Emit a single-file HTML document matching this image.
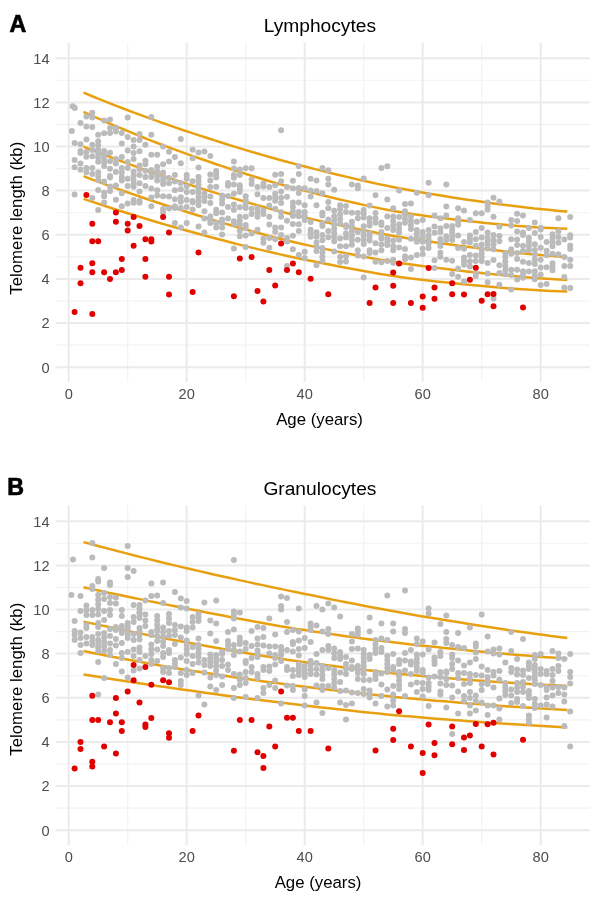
<!DOCTYPE html><html><head><meta charset="utf-8"><style>
html,body{margin:0;padding:0;background:#fff;width:598px;height:900px;overflow:hidden}
svg{display:block;will-change:transform}
text{font-family:"Liberation Sans",sans-serif}
</style></head><body>
<svg width="598" height="900" viewBox="0 0 598 900">
<line x1="55.7" y1="345.1" x2="590.0" y2="345.1" stroke="#f2f2f2" stroke-width="1.1"/>
<line x1="55.7" y1="301.0" x2="590.0" y2="301.0" stroke="#f2f2f2" stroke-width="1.1"/>
<line x1="55.7" y1="256.9" x2="590.0" y2="256.9" stroke="#f2f2f2" stroke-width="1.1"/>
<line x1="55.7" y1="212.7" x2="590.0" y2="212.7" stroke="#f2f2f2" stroke-width="1.1"/>
<line x1="55.7" y1="168.6" x2="590.0" y2="168.6" stroke="#f2f2f2" stroke-width="1.1"/>
<line x1="55.7" y1="124.4" x2="590.0" y2="124.4" stroke="#f2f2f2" stroke-width="1.1"/>
<line x1="55.7" y1="80.3" x2="590.0" y2="80.3" stroke="#f2f2f2" stroke-width="1.1"/>
<line x1="127.7" y1="42.5" x2="127.7" y2="382.0" stroke="#f2f2f2" stroke-width="1.1"/>
<line x1="245.7" y1="42.5" x2="245.7" y2="382.0" stroke="#f2f2f2" stroke-width="1.1"/>
<line x1="363.7" y1="42.5" x2="363.7" y2="382.0" stroke="#f2f2f2" stroke-width="1.1"/>
<line x1="481.7" y1="42.5" x2="481.7" y2="382.0" stroke="#f2f2f2" stroke-width="1.1"/>
<line x1="55.7" y1="367.2" x2="590.0" y2="367.2" stroke="#ebebeb" stroke-width="2"/>
<line x1="55.7" y1="323.1" x2="590.0" y2="323.1" stroke="#ebebeb" stroke-width="2"/>
<line x1="55.7" y1="278.9" x2="590.0" y2="278.9" stroke="#ebebeb" stroke-width="2"/>
<line x1="55.7" y1="234.8" x2="590.0" y2="234.8" stroke="#ebebeb" stroke-width="2"/>
<line x1="55.7" y1="190.6" x2="590.0" y2="190.6" stroke="#ebebeb" stroke-width="2"/>
<line x1="55.7" y1="146.5" x2="590.0" y2="146.5" stroke="#ebebeb" stroke-width="2"/>
<line x1="55.7" y1="102.4" x2="590.0" y2="102.4" stroke="#ebebeb" stroke-width="2"/>
<line x1="55.7" y1="58.2" x2="590.0" y2="58.2" stroke="#ebebeb" stroke-width="2"/>
<line x1="68.7" y1="42.5" x2="68.7" y2="382.0" stroke="#ebebeb" stroke-width="2"/>
<line x1="186.7" y1="42.5" x2="186.7" y2="382.0" stroke="#ebebeb" stroke-width="2"/>
<line x1="304.7" y1="42.5" x2="304.7" y2="382.0" stroke="#ebebeb" stroke-width="2"/>
<line x1="422.7" y1="42.5" x2="422.7" y2="382.0" stroke="#ebebeb" stroke-width="2"/>
<line x1="540.7" y1="42.5" x2="540.7" y2="382.0" stroke="#ebebeb" stroke-width="2"/>
<text x="49.5" y="372.5" font-size="14.6" fill="#4d4d4d" text-anchor="end">0</text>
<text x="49.5" y="328.4" font-size="14.6" fill="#4d4d4d" text-anchor="end">2</text>
<text x="49.5" y="284.2" font-size="14.6" fill="#4d4d4d" text-anchor="end">4</text>
<text x="49.5" y="240.1" font-size="14.6" fill="#4d4d4d" text-anchor="end">6</text>
<text x="49.5" y="195.9" font-size="14.6" fill="#4d4d4d" text-anchor="end">8</text>
<text x="49.5" y="151.8" font-size="14.6" fill="#4d4d4d" text-anchor="end">10</text>
<text x="49.5" y="107.7" font-size="14.6" fill="#4d4d4d" text-anchor="end">12</text>
<text x="49.5" y="63.5" font-size="14.6" fill="#4d4d4d" text-anchor="end">14</text>
<text x="68.7" y="399" font-size="14.6" fill="#4d4d4d" text-anchor="middle">0</text>
<text x="186.7" y="399" font-size="14.6" fill="#4d4d4d" text-anchor="middle">20</text>
<text x="304.7" y="399" font-size="14.6" fill="#4d4d4d" text-anchor="middle">40</text>
<text x="422.7" y="399" font-size="14.6" fill="#4d4d4d" text-anchor="middle">60</text>
<text x="540.7" y="399" font-size="14.6" fill="#4d4d4d" text-anchor="middle">80</text>
<text x="319.5" y="425.1" font-size="16.8" fill="#000" text-anchor="middle">Age (years)</text>
<text transform="translate(22.2,218.2) rotate(-90)" x="0" y="0" font-size="16.8" fill="#000" text-anchor="middle">Telomere length (kb)</text>
<text x="319.9" y="31.7" font-size="19.2" fill="#000" text-anchor="middle">Lymphocytes</text>
<text x="9.6" y="32.0" font-size="23.2" font-weight="bold" fill="#000" stroke="#000" stroke-width="0.7">A</text>
<path d="M83.5,92.7 L91.7,96.0 L99.9,99.3 L108.1,102.6 L116.3,105.8 L124.5,109.0 L132.7,112.1 L140.9,115.2 L149.1,118.2 L157.3,121.1 L165.5,124.0 L173.7,126.9 L181.9,129.7 L190.1,132.4 L198.3,135.1 L206.5,137.8 L214.7,140.4 L222.9,143.0 L231.1,145.6 L239.3,148.1 L247.5,150.6 L255.7,153.0 L263.9,155.4 L272.1,157.7 L280.3,160.0 L288.5,162.2 L296.7,164.4 L304.9,166.5 L313.1,168.6 L321.3,170.6 L329.5,172.7 L337.7,174.7 L345.9,176.6 L354.1,178.6 L362.3,180.5 L370.5,182.3 L378.7,184.1 L386.9,185.8 L395.1,187.5 L403.3,189.1 L411.5,190.6 L419.7,192.1 L427.9,193.4 L436.1,194.8 L444.3,196.1 L452.5,197.4 L460.7,198.7 L468.9,199.9 L477.1,201.1 L485.3,202.3 L493.5,203.4 L501.7,204.5 L509.9,205.6 L518.1,206.6 L526.3,207.5 L534.5,208.5 L542.7,209.3 L550.9,210.1 L559.1,210.9 L567.3,211.6" fill="none" stroke="#E8A010" stroke-width="2.5"/>
<path d="M83.5,111.9 L91.7,115.6 L99.9,119.2 L108.1,122.8 L116.3,126.3 L124.5,129.7 L132.7,133.1 L140.9,136.5 L149.1,139.8 L157.3,143.0 L165.5,146.1 L173.7,149.2 L181.9,152.2 L190.1,155.1 L198.3,158.0 L206.5,160.8 L214.7,163.7 L222.9,166.4 L231.1,169.2 L239.3,171.8 L247.5,174.5 L255.7,177.0 L263.9,179.5 L272.1,182.0 L280.3,184.3 L288.5,186.6 L296.7,188.8 L304.9,190.9 L313.1,192.9 L321.3,195.0 L329.5,197.0 L337.7,199.0 L345.9,200.9 L354.1,202.8 L362.3,204.6 L370.5,206.4 L378.7,208.1 L386.9,209.7 L395.1,211.2 L403.3,212.6 L411.5,213.9 L419.7,215.1 L427.9,216.2 L436.1,217.2 L444.3,218.2 L452.5,219.2 L460.7,220.2 L468.9,221.2 L477.1,222.1 L485.3,223.0 L493.5,223.8 L501.7,224.6 L509.9,225.3 L518.1,226.0 L526.3,226.6 L534.5,227.2 L542.7,227.7 L550.9,228.1 L559.1,228.4 L567.3,228.7" fill="none" stroke="#E8A010" stroke-width="2.5"/>
<path d="M83.5,146.6 L91.7,149.8 L99.9,153.0 L108.1,156.2 L116.3,159.3 L124.5,162.3 L132.7,165.3 L140.9,168.3 L149.1,171.2 L157.3,174.0 L165.5,176.8 L173.7,179.6 L181.9,182.3 L190.1,184.9 L198.3,187.5 L206.5,190.1 L214.7,192.6 L222.9,195.1 L231.1,197.6 L239.3,200.0 L247.5,202.4 L255.7,204.8 L263.9,207.0 L272.1,209.3 L280.3,211.4 L288.5,213.5 L296.7,215.5 L304.9,217.5 L313.1,219.4 L321.3,221.2 L329.5,223.1 L337.7,224.9 L345.9,226.6 L354.1,228.3 L362.3,230.0 L370.5,231.6 L378.7,233.2 L386.9,234.7 L395.1,236.2 L403.3,237.6 L411.5,238.9 L419.7,240.1 L427.9,241.3 L436.1,242.5 L444.3,243.7 L452.5,244.8 L460.7,245.9 L468.9,247.0 L477.1,248.1 L485.3,249.1 L493.5,250.1 L501.7,251.0 L509.9,252.0 L518.1,252.9 L526.3,253.7 L534.5,254.5 L542.7,255.2 L550.9,255.9 L559.1,256.6 L567.3,257.2" fill="none" stroke="#E8A010" stroke-width="2.5"/>
<path d="M83.5,176.2 L91.7,179.3 L99.9,182.3 L108.1,185.3 L116.3,188.3 L124.5,191.2 L132.7,194.1 L140.9,197.0 L149.1,199.8 L157.3,202.5 L165.5,205.2 L173.7,207.8 L181.9,210.4 L190.1,213.0 L198.3,215.5 L206.5,218.0 L214.7,220.4 L222.9,222.9 L231.1,225.3 L239.3,227.7 L247.5,230.0 L255.7,232.3 L263.9,234.5 L272.1,236.7 L280.3,238.8 L288.5,240.8 L296.7,242.7 L304.9,244.6 L313.1,246.4 L321.3,248.1 L329.5,249.9 L337.7,251.6 L345.9,253.2 L354.1,254.8 L362.3,256.4 L370.5,257.9 L378.7,259.4 L386.9,260.8 L395.1,262.1 L403.3,263.4 L411.5,264.6 L419.7,265.7 L427.9,266.7 L436.1,267.8 L444.3,268.8 L452.5,269.8 L460.7,270.7 L468.9,271.7 L477.1,272.6 L485.3,273.4 L493.5,274.3 L501.7,275.1 L509.9,275.8 L518.1,276.6 L526.3,277.3 L534.5,277.9 L542.7,278.5 L550.9,279.0 L559.1,279.5 L567.3,279.9" fill="none" stroke="#E8A010" stroke-width="2.5"/>
<path d="M83.5,198.9 L91.7,201.6 L99.9,204.3 L108.1,207.0 L116.3,209.7 L124.5,212.3 L132.7,214.8 L140.9,217.3 L149.1,219.8 L157.3,222.3 L165.5,224.6 L173.7,227.0 L181.9,229.3 L190.1,231.5 L198.3,233.8 L206.5,236.0 L214.7,238.2 L222.9,240.3 L231.1,242.5 L239.3,244.6 L247.5,246.6 L255.7,248.6 L263.9,250.6 L272.1,252.5 L280.3,254.4 L288.5,256.2 L296.7,258.0 L304.9,259.7 L313.1,261.3 L321.3,263.0 L329.5,264.6 L337.7,266.2 L345.9,267.8 L354.1,269.3 L362.3,270.8 L370.5,272.3 L378.7,273.7 L386.9,275.0 L395.1,276.3 L403.3,277.5 L411.5,278.6 L419.7,279.5 L427.9,280.5 L436.1,281.4 L444.3,282.2 L452.5,283.1 L460.7,283.9 L468.9,284.8 L477.1,285.5 L485.3,286.3 L493.5,287.0 L501.7,287.7 L509.9,288.4 L518.1,289.0 L526.3,289.5 L534.5,290.0 L542.7,290.5 L550.9,290.9 L559.1,291.2 L567.3,291.5" fill="none" stroke="#E8A010" stroke-width="2.5"/>
<g fill="#bbbbbb"><circle cx="74.6" cy="143.0" r="3.0"/><circle cx="74.6" cy="159.9" r="3.0"/><circle cx="74.6" cy="167.3" r="3.0"/><circle cx="74.6" cy="194.5" r="3.0"/><circle cx="80.5" cy="123.1" r="3.0"/><circle cx="80.5" cy="144.3" r="3.0"/><circle cx="80.5" cy="151.0" r="3.0"/><circle cx="80.5" cy="153.1" r="3.0"/><circle cx="80.5" cy="163.4" r="3.0"/><circle cx="80.5" cy="169.7" r="3.0"/><circle cx="86.4" cy="116.4" r="3.0"/><circle cx="86.4" cy="126.5" r="3.0"/><circle cx="86.4" cy="139.5" r="3.0"/><circle cx="86.4" cy="151.9" r="3.0"/><circle cx="86.4" cy="156.7" r="3.0"/><circle cx="86.4" cy="167.9" r="3.0"/><circle cx="86.4" cy="172.3" r="3.0"/><circle cx="92.3" cy="112.8" r="3.0"/><circle cx="92.3" cy="117.6" r="3.0"/><circle cx="92.3" cy="127.0" r="3.0"/><circle cx="92.3" cy="144.8" r="3.0"/><circle cx="92.3" cy="150.1" r="3.0"/><circle cx="92.3" cy="156.3" r="3.0"/><circle cx="92.3" cy="167.9" r="3.0"/><circle cx="92.3" cy="174.1" r="3.0"/><circle cx="92.3" cy="198.1" r="3.0"/><circle cx="98.2" cy="134.7" r="3.0"/><circle cx="98.2" cy="141.2" r="3.0"/><circle cx="98.2" cy="145.3" r="3.0"/><circle cx="98.2" cy="149.4" r="3.0"/><circle cx="98.2" cy="153.5" r="3.0"/><circle cx="98.2" cy="157.6" r="3.0"/><circle cx="98.2" cy="161.7" r="3.0"/><circle cx="98.2" cy="172.3" r="3.0"/><circle cx="98.2" cy="176.3" r="3.0"/><circle cx="98.2" cy="180.3" r="3.0"/><circle cx="98.2" cy="190.1" r="3.0"/><circle cx="98.2" cy="209.9" r="3.0"/><circle cx="104.1" cy="120.5" r="3.0"/><circle cx="104.1" cy="133.3" r="3.0"/><circle cx="104.1" cy="151.0" r="3.0"/><circle cx="104.1" cy="154.8" r="3.0"/><circle cx="104.1" cy="158.6" r="3.0"/><circle cx="104.1" cy="162.3" r="3.0"/><circle cx="104.1" cy="166.1" r="3.0"/><circle cx="104.1" cy="181.5" r="3.0"/><circle cx="104.1" cy="192.7" r="3.0"/><circle cx="104.1" cy="196.3" r="3.0"/><circle cx="104.1" cy="202.5" r="3.0"/><circle cx="110.0" cy="119.4" r="3.0"/><circle cx="110.0" cy="127.9" r="3.0"/><circle cx="110.0" cy="132.9" r="3.0"/><circle cx="110.0" cy="152.8" r="3.0"/><circle cx="110.0" cy="161.3" r="3.0"/><circle cx="110.0" cy="168.8" r="3.0"/><circle cx="110.0" cy="175.9" r="3.0"/><circle cx="110.0" cy="177.6" r="3.0"/><circle cx="110.0" cy="186.5" r="3.0"/><circle cx="110.0" cy="191.0" r="3.0"/><circle cx="115.9" cy="127.9" r="3.0"/><circle cx="115.9" cy="131.5" r="3.0"/><circle cx="115.9" cy="159.0" r="3.0"/><circle cx="115.9" cy="163.4" r="3.0"/><circle cx="115.9" cy="172.0" r="3.0"/><circle cx="115.9" cy="185.6" r="3.0"/><circle cx="115.9" cy="199.8" r="3.0"/><circle cx="72.7" cy="106.3" r="3.0"/><circle cx="74.8" cy="108.0" r="3.0"/><circle cx="71.8" cy="130.9" r="3.0"/><circle cx="121.8" cy="133.0" r="3.0"/><circle cx="121.8" cy="143.6" r="3.0"/><circle cx="121.8" cy="157.1" r="3.0"/><circle cx="121.8" cy="168.1" r="3.0"/><circle cx="121.8" cy="172.5" r="3.0"/><circle cx="121.8" cy="177.0" r="3.0"/><circle cx="121.8" cy="180.5" r="3.0"/><circle cx="121.8" cy="193.3" r="3.0"/><circle cx="121.8" cy="206.3" r="3.0"/><circle cx="127.7" cy="117.5" r="3.0"/><circle cx="127.7" cy="137.0" r="3.0"/><circle cx="127.7" cy="150.4" r="3.0"/><circle cx="127.7" cy="161.9" r="3.0"/><circle cx="127.7" cy="168.1" r="3.0"/><circle cx="127.7" cy="178.8" r="3.0"/><circle cx="127.7" cy="185.9" r="3.0"/><circle cx="127.7" cy="203.6" r="3.0"/><circle cx="133.6" cy="140.1" r="3.0"/><circle cx="133.6" cy="146.5" r="3.0"/><circle cx="133.6" cy="153.0" r="3.0"/><circle cx="133.6" cy="158.9" r="3.0"/><circle cx="133.6" cy="171.7" r="3.0"/><circle cx="133.6" cy="175.8" r="3.0"/><circle cx="133.6" cy="179.9" r="3.0"/><circle cx="133.6" cy="184.1" r="3.0"/><circle cx="133.6" cy="186.8" r="3.0"/><circle cx="133.6" cy="200.1" r="3.0"/><circle cx="133.6" cy="202.7" r="3.0"/><circle cx="139.5" cy="134.0" r="3.0"/><circle cx="139.5" cy="140.1" r="3.0"/><circle cx="139.5" cy="151.2" r="3.0"/><circle cx="139.5" cy="165.4" r="3.0"/><circle cx="139.5" cy="169.0" r="3.0"/><circle cx="139.5" cy="174.9" r="3.0"/><circle cx="139.5" cy="183.2" r="3.0"/><circle cx="139.5" cy="191.5" r="3.0"/><circle cx="139.5" cy="201.0" r="3.0"/><circle cx="139.5" cy="202.7" r="3.0"/><circle cx="145.4" cy="144.7" r="3.0"/><circle cx="145.4" cy="160.7" r="3.0"/><circle cx="145.4" cy="164.2" r="3.0"/><circle cx="145.4" cy="170.8" r="3.0"/><circle cx="145.4" cy="177.0" r="3.0"/><circle cx="145.4" cy="185.9" r="3.0"/><circle cx="151.3" cy="117.0" r="3.0"/><circle cx="151.3" cy="134.7" r="3.0"/><circle cx="151.3" cy="154.8" r="3.0"/><circle cx="151.3" cy="169.9" r="3.0"/><circle cx="151.3" cy="173.4" r="3.0"/><circle cx="151.3" cy="177.0" r="3.0"/><circle cx="151.3" cy="188.5" r="3.0"/><circle cx="151.3" cy="197.4" r="3.0"/><circle cx="151.3" cy="206.3" r="3.0"/><circle cx="157.2" cy="154.8" r="3.0"/><circle cx="157.2" cy="166.7" r="3.0"/><circle cx="157.2" cy="171.3" r="3.0"/><circle cx="157.2" cy="175.9" r="3.0"/><circle cx="157.2" cy="180.5" r="3.0"/><circle cx="157.2" cy="190.3" r="3.0"/><circle cx="157.2" cy="195.6" r="3.0"/><circle cx="163.1" cy="146.5" r="3.0"/><circle cx="163.1" cy="164.2" r="3.0"/><circle cx="163.1" cy="172.5" r="3.0"/><circle cx="163.1" cy="176.4" r="3.0"/><circle cx="163.1" cy="180.2" r="3.0"/><circle cx="163.1" cy="184.1" r="3.0"/><circle cx="163.1" cy="196.2" r="3.0"/><circle cx="163.1" cy="208.9" r="3.0"/><circle cx="163.1" cy="212.5" r="3.0"/><circle cx="169.0" cy="151.8" r="3.0"/><circle cx="169.0" cy="161.4" r="3.0"/><circle cx="169.0" cy="177.9" r="3.0"/><circle cx="169.0" cy="183.2" r="3.0"/><circle cx="169.0" cy="196.5" r="3.0"/><circle cx="169.0" cy="208.6" r="3.0"/><circle cx="174.9" cy="157.1" r="3.0"/><circle cx="174.9" cy="174.9" r="3.0"/><circle cx="174.9" cy="181.4" r="3.0"/><circle cx="174.9" cy="190.3" r="3.0"/><circle cx="174.9" cy="199.2" r="3.0"/><circle cx="174.9" cy="206.3" r="3.0"/><circle cx="174.9" cy="208.1" r="3.0"/><circle cx="174.9" cy="223.1" r="3.0"/><circle cx="180.8" cy="139.1" r="3.0"/><circle cx="180.8" cy="163.2" r="3.0"/><circle cx="180.8" cy="183.1" r="3.0"/><circle cx="180.8" cy="189.3" r="3.0"/><circle cx="180.8" cy="197.3" r="3.0"/><circle cx="180.8" cy="201.8" r="3.0"/><circle cx="180.8" cy="208.0" r="3.0"/><circle cx="180.8" cy="227.5" r="3.0"/><circle cx="186.7" cy="175.1" r="3.0"/><circle cx="186.7" cy="178.7" r="3.0"/><circle cx="186.7" cy="186.3" r="3.0"/><circle cx="186.7" cy="192.0" r="3.0"/><circle cx="186.7" cy="200.0" r="3.0"/><circle cx="186.7" cy="207.1" r="3.0"/><circle cx="186.7" cy="223.1" r="3.0"/><circle cx="192.6" cy="149.7" r="3.0"/><circle cx="192.6" cy="158.3" r="3.0"/><circle cx="192.6" cy="181.3" r="3.0"/><circle cx="192.6" cy="192.0" r="3.0"/><circle cx="192.6" cy="200.9" r="3.0"/><circle cx="192.6" cy="202.6" r="3.0"/><circle cx="192.6" cy="209.4" r="3.0"/><circle cx="198.5" cy="152.6" r="3.0"/><circle cx="198.5" cy="167.5" r="3.0"/><circle cx="198.5" cy="176.9" r="3.0"/><circle cx="198.5" cy="181.0" r="3.0"/><circle cx="198.5" cy="185.0" r="3.0"/><circle cx="198.5" cy="189.1" r="3.0"/><circle cx="198.5" cy="193.1" r="3.0"/><circle cx="198.5" cy="197.2" r="3.0"/><circle cx="198.5" cy="201.2" r="3.0"/><circle cx="198.5" cy="205.3" r="3.0"/><circle cx="198.5" cy="226.6" r="3.0"/><circle cx="204.4" cy="151.5" r="3.0"/><circle cx="204.4" cy="193.4" r="3.0"/><circle cx="204.4" cy="197.1" r="3.0"/><circle cx="204.4" cy="200.9" r="3.0"/><circle cx="204.4" cy="211.2" r="3.0"/><circle cx="204.4" cy="218.6" r="3.0"/><circle cx="204.4" cy="232.5" r="3.0"/><circle cx="210.3" cy="156.1" r="3.0"/><circle cx="210.3" cy="174.6" r="3.0"/><circle cx="210.3" cy="180.4" r="3.0"/><circle cx="210.3" cy="187.0" r="3.0"/><circle cx="210.3" cy="196.4" r="3.0"/><circle cx="210.3" cy="203.0" r="3.0"/><circle cx="210.3" cy="216.5" r="3.0"/><circle cx="210.3" cy="219.8" r="3.0"/><circle cx="210.3" cy="223.1" r="3.0"/><circle cx="216.2" cy="171.0" r="3.0"/><circle cx="216.2" cy="174.2" r="3.0"/><circle cx="216.2" cy="177.4" r="3.0"/><circle cx="216.2" cy="186.7" r="3.0"/><circle cx="216.2" cy="209.7" r="3.0"/><circle cx="216.2" cy="213.3" r="3.0"/><circle cx="216.2" cy="223.1" r="3.0"/><circle cx="216.2" cy="227.5" r="3.0"/><circle cx="222.1" cy="195.5" r="3.0"/><circle cx="222.1" cy="199.5" r="3.0"/><circle cx="222.1" cy="203.5" r="3.0"/><circle cx="222.1" cy="212.4" r="3.0"/><circle cx="222.1" cy="219.5" r="3.0"/><circle cx="222.1" cy="223.5" r="3.0"/><circle cx="222.1" cy="227.5" r="3.0"/><circle cx="222.1" cy="234.6" r="3.0"/><circle cx="228.0" cy="183.1" r="3.0"/><circle cx="228.0" cy="185.8" r="3.0"/><circle cx="228.0" cy="195.9" r="3.0"/><circle cx="228.0" cy="207.1" r="3.0"/><circle cx="228.0" cy="218.6" r="3.0"/><circle cx="233.9" cy="161.5" r="3.0"/><circle cx="233.9" cy="168.6" r="3.0"/><circle cx="233.9" cy="175.1" r="3.0"/><circle cx="233.9" cy="177.8" r="3.0"/><circle cx="233.9" cy="184.5" r="3.0"/><circle cx="233.9" cy="193.8" r="3.0"/><circle cx="233.9" cy="204.4" r="3.0"/><circle cx="233.9" cy="209.7" r="3.0"/><circle cx="233.9" cy="221.3" r="3.0"/><circle cx="233.9" cy="223.9" r="3.0"/><circle cx="233.9" cy="248.4" r="3.0"/><circle cx="239.8" cy="169.4" r="3.0"/><circle cx="239.8" cy="175.0" r="3.0"/><circle cx="239.8" cy="185.3" r="3.0"/><circle cx="239.8" cy="188.6" r="3.0"/><circle cx="239.8" cy="191.9" r="3.0"/><circle cx="239.8" cy="207.3" r="3.0"/><circle cx="239.8" cy="216.8" r="3.0"/><circle cx="239.8" cy="220.7" r="3.0"/><circle cx="239.8" cy="224.7" r="3.0"/><circle cx="239.8" cy="231.0" r="3.0"/><circle cx="239.8" cy="236.3" r="3.0"/><circle cx="245.7" cy="168.3" r="3.0"/><circle cx="245.7" cy="196.3" r="3.0"/><circle cx="245.7" cy="200.2" r="3.0"/><circle cx="245.7" cy="204.0" r="3.0"/><circle cx="245.7" cy="207.9" r="3.0"/><circle cx="245.7" cy="216.8" r="3.0"/><circle cx="245.7" cy="225.1" r="3.0"/><circle cx="245.7" cy="228.3" r="3.0"/><circle cx="245.7" cy="235.4" r="3.0"/><circle cx="245.7" cy="246.9" r="3.0"/><circle cx="251.6" cy="168.3" r="3.0"/><circle cx="251.6" cy="179.5" r="3.0"/><circle cx="251.6" cy="183.9" r="3.0"/><circle cx="251.6" cy="208.8" r="3.0"/><circle cx="251.6" cy="214.1" r="3.0"/><circle cx="251.6" cy="233.6" r="3.0"/><circle cx="257.5" cy="187.1" r="3.0"/><circle cx="257.5" cy="194.2" r="3.0"/><circle cx="257.5" cy="207.9" r="3.0"/><circle cx="257.5" cy="212.3" r="3.0"/><circle cx="257.5" cy="216.8" r="3.0"/><circle cx="257.5" cy="229.7" r="3.0"/><circle cx="263.4" cy="183.6" r="3.0"/><circle cx="263.4" cy="186.6" r="3.0"/><circle cx="263.4" cy="198.1" r="3.0"/><circle cx="263.4" cy="210.5" r="3.0"/><circle cx="263.4" cy="214.1" r="3.0"/><circle cx="263.4" cy="238.6" r="3.0"/><circle cx="263.4" cy="242.8" r="3.0"/><circle cx="269.3" cy="187.1" r="3.0"/><circle cx="269.3" cy="198.1" r="3.0"/><circle cx="269.3" cy="205.6" r="3.0"/><circle cx="269.3" cy="216.8" r="3.0"/><circle cx="269.3" cy="224.4" r="3.0"/><circle cx="269.3" cy="238.1" r="3.0"/><circle cx="269.3" cy="247.8" r="3.0"/><circle cx="275.2" cy="174.7" r="3.0"/><circle cx="275.2" cy="185.3" r="3.0"/><circle cx="275.2" cy="193.7" r="3.0"/><circle cx="275.2" cy="197.2" r="3.0"/><circle cx="275.2" cy="200.8" r="3.0"/><circle cx="275.2" cy="208.8" r="3.0"/><circle cx="275.2" cy="227.4" r="3.0"/><circle cx="275.2" cy="231.8" r="3.0"/><circle cx="275.2" cy="239.3" r="3.0"/><circle cx="281.1" cy="130.3" r="3.0"/><circle cx="281.1" cy="174.1" r="3.0"/><circle cx="281.1" cy="181.2" r="3.0"/><circle cx="281.1" cy="191.4" r="3.0"/><circle cx="281.1" cy="197.8" r="3.0"/><circle cx="281.1" cy="203.1" r="3.0"/><circle cx="281.1" cy="212.3" r="3.0"/><circle cx="281.1" cy="216.8" r="3.0"/><circle cx="281.1" cy="227.4" r="3.0"/><circle cx="281.1" cy="235.0" r="3.0"/><circle cx="287.0" cy="187.1" r="3.0"/><circle cx="287.0" cy="196.7" r="3.0"/><circle cx="287.0" cy="220.8" r="3.0"/><circle cx="287.0" cy="238.1" r="3.0"/><circle cx="287.0" cy="241.6" r="3.0"/><circle cx="287.0" cy="265.9" r="3.0"/><circle cx="292.9" cy="180.7" r="3.0"/><circle cx="292.9" cy="188.3" r="3.0"/><circle cx="292.9" cy="202.5" r="3.0"/><circle cx="292.9" cy="207.0" r="3.0"/><circle cx="292.9" cy="211.4" r="3.0"/><circle cx="292.9" cy="215.9" r="3.0"/><circle cx="292.9" cy="223.9" r="3.0"/><circle cx="292.9" cy="235.7" r="3.0"/><circle cx="292.9" cy="249.2" r="3.0"/><circle cx="298.8" cy="166.3" r="3.0"/><circle cx="298.8" cy="174.1" r="3.0"/><circle cx="298.8" cy="187.9" r="3.0"/><circle cx="298.8" cy="192.9" r="3.0"/><circle cx="298.8" cy="202.5" r="3.0"/><circle cx="298.8" cy="211.9" r="3.0"/><circle cx="298.8" cy="216.3" r="3.0"/><circle cx="298.8" cy="224.3" r="3.0"/><circle cx="298.8" cy="230.9" r="3.0"/><circle cx="298.8" cy="255.0" r="3.0"/><circle cx="304.7" cy="188.3" r="3.0"/><circle cx="304.7" cy="205.3" r="3.0"/><circle cx="304.7" cy="211.9" r="3.0"/><circle cx="304.7" cy="215.9" r="3.0"/><circle cx="304.7" cy="219.9" r="3.0"/><circle cx="304.7" cy="251.8" r="3.0"/><circle cx="304.7" cy="258.1" r="3.0"/><circle cx="310.6" cy="178.7" r="3.0"/><circle cx="310.6" cy="190.6" r="3.0"/><circle cx="310.6" cy="196.5" r="3.0"/><circle cx="310.6" cy="222.0" r="3.0"/><circle cx="310.6" cy="229.7" r="3.0"/><circle cx="310.6" cy="233.2" r="3.0"/><circle cx="310.6" cy="236.8" r="3.0"/><circle cx="316.5" cy="180.5" r="3.0"/><circle cx="316.5" cy="191.1" r="3.0"/><circle cx="316.5" cy="205.3" r="3.0"/><circle cx="316.5" cy="232.3" r="3.0"/><circle cx="316.5" cy="236.8" r="3.0"/><circle cx="316.5" cy="242.6" r="3.0"/><circle cx="316.5" cy="246.8" r="3.0"/><circle cx="316.5" cy="251.0" r="3.0"/><circle cx="316.5" cy="265.2" r="3.0"/><circle cx="322.4" cy="168.0" r="3.0"/><circle cx="322.4" cy="193.3" r="3.0"/><circle cx="322.4" cy="212.8" r="3.0"/><circle cx="322.4" cy="215.4" r="3.0"/><circle cx="322.4" cy="223.4" r="3.0"/><circle cx="322.4" cy="226.1" r="3.0"/><circle cx="322.4" cy="235.0" r="3.0"/><circle cx="322.4" cy="240.3" r="3.0"/><circle cx="322.4" cy="247.9" r="3.0"/><circle cx="322.4" cy="252.2" r="3.0"/><circle cx="322.4" cy="256.5" r="3.0"/><circle cx="322.4" cy="260.7" r="3.0"/><circle cx="328.3" cy="170.2" r="3.0"/><circle cx="328.3" cy="178.7" r="3.0"/><circle cx="328.3" cy="184.4" r="3.0"/><circle cx="328.3" cy="202.1" r="3.0"/><circle cx="328.3" cy="208.3" r="3.0"/><circle cx="328.3" cy="219.5" r="3.0"/><circle cx="328.3" cy="230.9" r="3.0"/><circle cx="328.3" cy="237.3" r="3.0"/><circle cx="334.2" cy="189.7" r="3.0"/><circle cx="334.2" cy="210.7" r="3.0"/><circle cx="334.2" cy="216.3" r="3.0"/><circle cx="334.2" cy="220.5" r="3.0"/><circle cx="334.2" cy="224.6" r="3.0"/><circle cx="334.2" cy="228.8" r="3.0"/><circle cx="334.2" cy="232.9" r="3.0"/><circle cx="334.2" cy="237.0" r="3.0"/><circle cx="334.2" cy="241.2" r="3.0"/><circle cx="334.2" cy="251.5" r="3.0"/><circle cx="340.1" cy="205.3" r="3.0"/><circle cx="340.1" cy="209.2" r="3.0"/><circle cx="340.1" cy="214.6" r="3.0"/><circle cx="340.1" cy="219.0" r="3.0"/><circle cx="340.1" cy="223.4" r="3.0"/><circle cx="340.1" cy="238.5" r="3.0"/><circle cx="340.1" cy="246.2" r="3.0"/><circle cx="340.1" cy="256.8" r="3.0"/><circle cx="340.1" cy="262.1" r="3.0"/><circle cx="346.0" cy="206.0" r="3.0"/><circle cx="346.0" cy="211.9" r="3.0"/><circle cx="346.0" cy="225.2" r="3.0"/><circle cx="346.0" cy="227.0" r="3.0"/><circle cx="346.0" cy="233.2" r="3.0"/><circle cx="346.0" cy="237.6" r="3.0"/><circle cx="346.0" cy="246.2" r="3.0"/><circle cx="346.0" cy="256.3" r="3.0"/><circle cx="346.0" cy="261.6" r="3.0"/><circle cx="351.9" cy="184.4" r="3.0"/><circle cx="351.9" cy="212.8" r="3.0"/><circle cx="351.9" cy="221.7" r="3.0"/><circle cx="351.9" cy="226.3" r="3.0"/><circle cx="351.9" cy="230.9" r="3.0"/><circle cx="351.9" cy="235.5" r="3.0"/><circle cx="351.9" cy="240.1" r="3.0"/><circle cx="351.9" cy="244.7" r="3.0"/><circle cx="357.8" cy="185.5" r="3.0"/><circle cx="357.8" cy="188.2" r="3.0"/><circle cx="357.8" cy="213.0" r="3.0"/><circle cx="357.8" cy="218.3" r="3.0"/><circle cx="357.8" cy="232.0" r="3.0"/><circle cx="357.8" cy="239.7" r="3.0"/><circle cx="357.8" cy="250.3" r="3.0"/><circle cx="357.8" cy="255.6" r="3.0"/><circle cx="363.7" cy="178.4" r="3.0"/><circle cx="363.7" cy="210.0" r="3.0"/><circle cx="363.7" cy="213.7" r="3.0"/><circle cx="363.7" cy="217.5" r="3.0"/><circle cx="363.7" cy="226.3" r="3.0"/><circle cx="363.7" cy="230.8" r="3.0"/><circle cx="363.7" cy="235.2" r="3.0"/><circle cx="363.7" cy="239.7" r="3.0"/><circle cx="363.7" cy="244.1" r="3.0"/><circle cx="363.7" cy="256.5" r="3.0"/><circle cx="363.7" cy="277.5" r="3.0"/><circle cx="369.6" cy="205.4" r="3.0"/><circle cx="369.6" cy="218.3" r="3.0"/><circle cx="369.6" cy="221.9" r="3.0"/><circle cx="369.6" cy="225.4" r="3.0"/><circle cx="369.6" cy="233.4" r="3.0"/><circle cx="369.6" cy="237.0" r="3.0"/><circle cx="369.6" cy="240.5" r="3.0"/><circle cx="369.6" cy="250.3" r="3.0"/><circle cx="369.6" cy="253.0" r="3.0"/><circle cx="375.5" cy="195.3" r="3.0"/><circle cx="375.5" cy="213.0" r="3.0"/><circle cx="375.5" cy="218.3" r="3.0"/><circle cx="375.5" cy="222.8" r="3.0"/><circle cx="375.5" cy="243.2" r="3.0"/><circle cx="375.5" cy="252.6" r="3.0"/><circle cx="375.5" cy="261.8" r="3.0"/><circle cx="381.4" cy="168.1" r="3.0"/><circle cx="381.4" cy="222.4" r="3.0"/><circle cx="381.4" cy="224.9" r="3.0"/><circle cx="381.4" cy="232.0" r="3.0"/><circle cx="381.4" cy="235.4" r="3.0"/><circle cx="381.4" cy="238.8" r="3.0"/><circle cx="381.4" cy="244.4" r="3.0"/><circle cx="381.4" cy="250.3" r="3.0"/><circle cx="381.4" cy="262.2" r="3.0"/><circle cx="387.3" cy="166.3" r="3.0"/><circle cx="387.3" cy="199.4" r="3.0"/><circle cx="387.3" cy="216.6" r="3.0"/><circle cx="387.3" cy="228.1" r="3.0"/><circle cx="387.3" cy="238.4" r="3.0"/><circle cx="387.3" cy="241.7" r="3.0"/><circle cx="387.3" cy="245.0" r="3.0"/><circle cx="387.3" cy="261.0" r="3.0"/><circle cx="393.2" cy="208.2" r="3.0"/><circle cx="393.2" cy="216.6" r="3.0"/><circle cx="393.2" cy="221.0" r="3.0"/><circle cx="393.2" cy="225.4" r="3.0"/><circle cx="393.2" cy="229.9" r="3.0"/><circle cx="393.2" cy="240.5" r="3.0"/><circle cx="393.2" cy="245.9" r="3.0"/><circle cx="393.2" cy="250.3" r="3.0"/><circle cx="393.2" cy="259.7" r="3.0"/><circle cx="393.2" cy="262.7" r="3.0"/><circle cx="399.1" cy="190.5" r="3.0"/><circle cx="399.1" cy="217.1" r="3.0"/><circle cx="399.1" cy="224.2" r="3.0"/><circle cx="399.1" cy="228.4" r="3.0"/><circle cx="399.1" cy="232.5" r="3.0"/><circle cx="399.1" cy="239.7" r="3.0"/><circle cx="399.1" cy="247.6" r="3.0"/><circle cx="405.0" cy="204.1" r="3.0"/><circle cx="405.0" cy="211.2" r="3.0"/><circle cx="405.0" cy="215.1" r="3.0"/><circle cx="405.0" cy="218.9" r="3.0"/><circle cx="405.0" cy="222.8" r="3.0"/><circle cx="405.0" cy="249.1" r="3.0"/><circle cx="405.0" cy="256.2" r="3.0"/><circle cx="405.0" cy="259.2" r="3.0"/><circle cx="410.9" cy="203.6" r="3.0"/><circle cx="410.9" cy="216.6" r="3.0"/><circle cx="410.9" cy="220.7" r="3.0"/><circle cx="410.9" cy="224.9" r="3.0"/><circle cx="410.9" cy="229.0" r="3.0"/><circle cx="410.9" cy="238.8" r="3.0"/><circle cx="410.9" cy="257.4" r="3.0"/><circle cx="410.9" cy="268.9" r="3.0"/><circle cx="416.8" cy="192.8" r="3.0"/><circle cx="416.8" cy="221.8" r="3.0"/><circle cx="416.8" cy="230.1" r="3.0"/><circle cx="416.8" cy="234.0" r="3.0"/><circle cx="416.8" cy="237.8" r="3.0"/><circle cx="416.8" cy="241.7" r="3.0"/><circle cx="416.8" cy="255.0" r="3.0"/><circle cx="422.7" cy="220.0" r="3.0"/><circle cx="422.7" cy="231.9" r="3.0"/><circle cx="422.7" cy="236.8" r="3.0"/><circle cx="422.7" cy="241.7" r="3.0"/><circle cx="422.7" cy="248.4" r="3.0"/><circle cx="422.7" cy="254.1" r="3.0"/><circle cx="428.6" cy="182.7" r="3.0"/><circle cx="428.6" cy="195.2" r="3.0"/><circle cx="428.6" cy="230.1" r="3.0"/><circle cx="428.6" cy="235.4" r="3.0"/><circle cx="428.6" cy="239.6" r="3.0"/><circle cx="428.6" cy="243.7" r="3.0"/><circle cx="428.6" cy="247.9" r="3.0"/><circle cx="434.5" cy="215.4" r="3.0"/><circle cx="434.5" cy="226.6" r="3.0"/><circle cx="434.5" cy="232.8" r="3.0"/><circle cx="434.5" cy="260.3" r="3.0"/><circle cx="434.5" cy="267.9" r="3.0"/><circle cx="440.4" cy="218.2" r="3.0"/><circle cx="440.4" cy="228.3" r="3.0"/><circle cx="440.4" cy="231.9" r="3.0"/><circle cx="440.4" cy="239.0" r="3.0"/><circle cx="440.4" cy="242.5" r="3.0"/><circle cx="440.4" cy="246.1" r="3.0"/><circle cx="440.4" cy="252.7" r="3.0"/><circle cx="440.4" cy="256.8" r="3.0"/><circle cx="446.3" cy="184.5" r="3.0"/><circle cx="446.3" cy="206.5" r="3.0"/><circle cx="446.3" cy="215.4" r="3.0"/><circle cx="446.3" cy="226.0" r="3.0"/><circle cx="446.3" cy="236.3" r="3.0"/><circle cx="446.3" cy="239.9" r="3.0"/><circle cx="446.3" cy="259.8" r="3.0"/><circle cx="452.2" cy="226.0" r="3.0"/><circle cx="452.2" cy="229.4" r="3.0"/><circle cx="452.2" cy="232.8" r="3.0"/><circle cx="452.2" cy="236.7" r="3.0"/><circle cx="452.2" cy="239.9" r="3.0"/><circle cx="452.2" cy="260.8" r="3.0"/><circle cx="452.2" cy="274.1" r="3.0"/><circle cx="458.1" cy="208.3" r="3.0"/><circle cx="458.1" cy="218.2" r="3.0"/><circle cx="458.1" cy="221.5" r="3.0"/><circle cx="458.1" cy="224.8" r="3.0"/><circle cx="458.1" cy="235.4" r="3.0"/><circle cx="458.1" cy="247.9" r="3.0"/><circle cx="458.1" cy="268.6" r="3.0"/><circle cx="458.1" cy="276.8" r="3.0"/><circle cx="464.0" cy="210.6" r="3.0"/><circle cx="464.0" cy="242.0" r="3.0"/><circle cx="464.0" cy="248.8" r="3.0"/><circle cx="464.0" cy="257.6" r="3.0"/><circle cx="464.0" cy="261.2" r="3.0"/><circle cx="464.0" cy="264.7" r="3.0"/><circle cx="464.0" cy="281.6" r="3.0"/><circle cx="469.9" cy="220.0" r="3.0"/><circle cx="469.9" cy="235.4" r="3.0"/><circle cx="469.9" cy="239.0" r="3.0"/><circle cx="469.9" cy="242.5" r="3.0"/><circle cx="469.9" cy="255.0" r="3.0"/><circle cx="469.9" cy="261.2" r="3.0"/><circle cx="469.9" cy="266.5" r="3.0"/><circle cx="475.8" cy="213.3" r="3.0"/><circle cx="475.8" cy="232.1" r="3.0"/><circle cx="475.8" cy="239.2" r="3.0"/><circle cx="475.8" cy="245.8" r="3.0"/><circle cx="475.8" cy="255.5" r="3.0"/><circle cx="475.8" cy="260.9" r="3.0"/><circle cx="475.8" cy="273.3" r="3.0"/><circle cx="475.8" cy="276.0" r="3.0"/><circle cx="481.7" cy="213.3" r="3.0"/><circle cx="481.7" cy="228.0" r="3.0"/><circle cx="481.7" cy="237.4" r="3.0"/><circle cx="481.7" cy="244.5" r="3.0"/><circle cx="481.7" cy="249.3" r="3.0"/><circle cx="481.7" cy="253.2" r="3.0"/><circle cx="481.7" cy="257.0" r="3.0"/><circle cx="481.7" cy="260.9" r="3.0"/><circle cx="487.6" cy="202.6" r="3.0"/><circle cx="487.6" cy="206.0" r="3.0"/><circle cx="487.6" cy="209.4" r="3.0"/><circle cx="487.6" cy="232.5" r="3.0"/><circle cx="487.6" cy="237.8" r="3.0"/><circle cx="487.6" cy="241.3" r="3.0"/><circle cx="487.6" cy="244.9" r="3.0"/><circle cx="487.6" cy="248.4" r="3.0"/><circle cx="487.6" cy="263.0" r="3.0"/><circle cx="487.6" cy="273.6" r="3.0"/><circle cx="487.6" cy="282.2" r="3.0"/><circle cx="493.5" cy="197.8" r="3.0"/><circle cx="493.5" cy="216.8" r="3.0"/><circle cx="493.5" cy="235.1" r="3.0"/><circle cx="493.5" cy="239.9" r="3.0"/><circle cx="493.5" cy="244.6" r="3.0"/><circle cx="493.5" cy="249.3" r="3.0"/><circle cx="493.5" cy="260.0" r="3.0"/><circle cx="493.5" cy="298.5" r="3.0"/><circle cx="499.4" cy="201.4" r="3.0"/><circle cx="499.4" cy="226.8" r="3.0"/><circle cx="499.4" cy="236.0" r="3.0"/><circle cx="499.4" cy="241.3" r="3.0"/><circle cx="499.4" cy="265.3" r="3.0"/><circle cx="499.4" cy="272.9" r="3.0"/><circle cx="499.4" cy="284.8" r="3.0"/><circle cx="505.3" cy="252.9" r="3.0"/><circle cx="505.3" cy="257.1" r="3.0"/><circle cx="505.3" cy="261.4" r="3.0"/><circle cx="505.3" cy="265.7" r="3.0"/><circle cx="505.3" cy="269.9" r="3.0"/><circle cx="505.3" cy="274.2" r="3.0"/><circle cx="511.2" cy="220.0" r="3.0"/><circle cx="511.2" cy="225.4" r="3.0"/><circle cx="511.2" cy="239.2" r="3.0"/><circle cx="511.2" cy="249.3" r="3.0"/><circle cx="511.2" cy="253.8" r="3.0"/><circle cx="511.2" cy="269.7" r="3.0"/><circle cx="511.2" cy="275.1" r="3.0"/><circle cx="511.2" cy="289.6" r="3.0"/><circle cx="517.1" cy="213.8" r="3.0"/><circle cx="517.1" cy="220.9" r="3.0"/><circle cx="517.1" cy="231.6" r="3.0"/><circle cx="517.1" cy="239.6" r="3.0"/><circle cx="517.1" cy="244.9" r="3.0"/><circle cx="517.1" cy="252.9" r="3.0"/><circle cx="517.1" cy="259.1" r="3.0"/><circle cx="517.1" cy="269.7" r="3.0"/><circle cx="517.1" cy="279.5" r="3.0"/><circle cx="523.0" cy="215.6" r="3.0"/><circle cx="523.0" cy="232.5" r="3.0"/><circle cx="523.0" cy="235.1" r="3.0"/><circle cx="523.0" cy="245.8" r="3.0"/><circle cx="523.0" cy="251.1" r="3.0"/><circle cx="523.0" cy="261.8" r="3.0"/><circle cx="523.0" cy="271.2" r="3.0"/><circle cx="523.0" cy="274.4" r="3.0"/><circle cx="523.0" cy="277.7" r="3.0"/><circle cx="528.9" cy="228.0" r="3.0"/><circle cx="528.9" cy="237.8" r="3.0"/><circle cx="528.9" cy="241.9" r="3.0"/><circle cx="528.9" cy="246.1" r="3.0"/><circle cx="528.9" cy="250.2" r="3.0"/><circle cx="528.9" cy="263.0" r="3.0"/><circle cx="528.9" cy="271.5" r="3.0"/><circle cx="534.8" cy="222.4" r="3.0"/><circle cx="534.8" cy="233.0" r="3.0"/><circle cx="534.8" cy="244.2" r="3.0"/><circle cx="534.8" cy="249.9" r="3.0"/><circle cx="534.8" cy="254.6" r="3.0"/><circle cx="534.8" cy="259.4" r="3.0"/><circle cx="534.8" cy="264.1" r="3.0"/><circle cx="534.8" cy="271.2" r="3.0"/><circle cx="534.8" cy="275.2" r="3.0"/><circle cx="534.8" cy="279.2" r="3.0"/><circle cx="540.7" cy="227.7" r="3.0"/><circle cx="540.7" cy="229.5" r="3.0"/><circle cx="540.7" cy="237.1" r="3.0"/><circle cx="540.7" cy="247.8" r="3.0"/><circle cx="540.7" cy="259.7" r="3.0"/><circle cx="540.7" cy="267.6" r="3.0"/><circle cx="540.7" cy="274.7" r="3.0"/><circle cx="540.7" cy="285.0" r="3.0"/><circle cx="546.6" cy="241.9" r="3.0"/><circle cx="546.6" cy="250.8" r="3.0"/><circle cx="546.6" cy="255.2" r="3.0"/><circle cx="546.6" cy="267.3" r="3.0"/><circle cx="546.6" cy="284.0" r="3.0"/><circle cx="552.5" cy="234.3" r="3.0"/><circle cx="552.5" cy="238.3" r="3.0"/><circle cx="552.5" cy="242.3" r="3.0"/><circle cx="552.5" cy="246.3" r="3.0"/><circle cx="552.5" cy="253.8" r="3.0"/><circle cx="552.5" cy="263.2" r="3.0"/><circle cx="552.5" cy="266.8" r="3.0"/><circle cx="552.5" cy="270.3" r="3.0"/><circle cx="558.4" cy="218.3" r="3.0"/><circle cx="558.4" cy="231.2" r="3.0"/><circle cx="558.4" cy="237.1" r="3.0"/><circle cx="558.4" cy="242.8" r="3.0"/><circle cx="558.4" cy="254.3" r="3.0"/><circle cx="564.3" cy="239.6" r="3.0"/><circle cx="564.3" cy="257.0" r="3.0"/><circle cx="564.3" cy="265.9" r="3.0"/><circle cx="564.3" cy="276.9" r="3.0"/><circle cx="564.3" cy="287.5" r="3.0"/><circle cx="570.2" cy="217.0" r="3.0"/><circle cx="570.2" cy="235.3" r="3.0"/><circle cx="570.2" cy="237.5" r="3.0"/><circle cx="570.2" cy="245.4" r="3.0"/><circle cx="570.2" cy="249.0" r="3.0"/><circle cx="570.2" cy="259.7" r="3.0"/><circle cx="570.2" cy="265.9" r="3.0"/><circle cx="570.2" cy="288.1" r="3.0"/></g>
<g fill="#e00000"><circle cx="86.4" cy="194.9" r="3.0"/><circle cx="92.3" cy="223.7" r="3.0"/><circle cx="92.3" cy="241.2" r="3.0"/><circle cx="98.2" cy="241.2" r="3.0"/><circle cx="92.3" cy="263.3" r="3.0"/><circle cx="80.5" cy="267.7" r="3.0"/><circle cx="92.3" cy="272.3" r="3.0"/><circle cx="104.1" cy="272.3" r="3.0"/><circle cx="110.0" cy="278.9" r="3.0"/><circle cx="115.9" cy="272.3" r="3.0"/><circle cx="121.8" cy="270.1" r="3.0"/><circle cx="121.8" cy="259.1" r="3.0"/><circle cx="80.5" cy="283.3" r="3.0"/><circle cx="74.6" cy="312.0" r="3.0"/><circle cx="92.3" cy="314.0" r="3.0"/><circle cx="115.9" cy="212.5" r="3.0"/><circle cx="115.9" cy="221.7" r="3.0"/><circle cx="127.7" cy="223.7" r="3.0"/><circle cx="127.7" cy="230.4" r="3.0"/><circle cx="133.6" cy="216.9" r="3.0"/><circle cx="139.5" cy="226.0" r="3.0"/><circle cx="133.6" cy="245.8" r="3.0"/><circle cx="145.4" cy="239.2" r="3.0"/><circle cx="151.3" cy="239.2" r="3.0"/><circle cx="151.3" cy="241.4" r="3.0"/><circle cx="145.4" cy="259.1" r="3.0"/><circle cx="145.4" cy="276.7" r="3.0"/><circle cx="163.1" cy="216.9" r="3.0"/><circle cx="169.0" cy="232.6" r="3.0"/><circle cx="169.0" cy="276.7" r="3.0"/><circle cx="169.0" cy="294.4" r="3.0"/><circle cx="198.5" cy="252.4" r="3.0"/><circle cx="192.6" cy="292.0" r="3.0"/><circle cx="233.9" cy="296.3" r="3.0"/><circle cx="239.8" cy="258.4" r="3.0"/><circle cx="251.6" cy="256.9" r="3.0"/><circle cx="257.5" cy="291.0" r="3.0"/><circle cx="263.4" cy="301.6" r="3.0"/><circle cx="269.3" cy="270.0" r="3.0"/><circle cx="275.2" cy="285.5" r="3.0"/><circle cx="281.1" cy="243.6" r="3.0"/><circle cx="287.0" cy="270.0" r="3.0"/><circle cx="292.9" cy="263.5" r="3.0"/><circle cx="298.8" cy="272.2" r="3.0"/><circle cx="310.6" cy="278.8" r="3.0"/><circle cx="328.3" cy="294.2" r="3.0"/><circle cx="369.6" cy="303.0" r="3.0"/><circle cx="375.5" cy="287.5" r="3.0"/><circle cx="393.2" cy="272.4" r="3.0"/><circle cx="393.2" cy="285.7" r="3.0"/><circle cx="393.2" cy="303.0" r="3.0"/><circle cx="399.1" cy="263.4" r="3.0"/><circle cx="410.9" cy="303.0" r="3.0"/><circle cx="422.7" cy="296.5" r="3.0"/><circle cx="422.7" cy="307.8" r="3.0"/><circle cx="428.6" cy="267.9" r="3.0"/><circle cx="434.5" cy="287.5" r="3.0"/><circle cx="434.5" cy="298.8" r="3.0"/><circle cx="452.2" cy="283.2" r="3.0"/><circle cx="452.2" cy="294.2" r="3.0"/><circle cx="464.0" cy="294.5" r="3.0"/><circle cx="469.9" cy="279.7" r="3.0"/><circle cx="475.8" cy="267.7" r="3.0"/><circle cx="481.7" cy="300.8" r="3.0"/><circle cx="487.6" cy="294.2" r="3.0"/><circle cx="493.5" cy="294.0" r="3.0"/><circle cx="493.5" cy="306.3" r="3.0"/><circle cx="523.0" cy="307.5" r="3.0"/></g>
<line x1="55.7" y1="808.1" x2="590.0" y2="808.1" stroke="#f2f2f2" stroke-width="1.1"/>
<line x1="55.7" y1="764.0" x2="590.0" y2="764.0" stroke="#f2f2f2" stroke-width="1.1"/>
<line x1="55.7" y1="719.9" x2="590.0" y2="719.9" stroke="#f2f2f2" stroke-width="1.1"/>
<line x1="55.7" y1="675.7" x2="590.0" y2="675.7" stroke="#f2f2f2" stroke-width="1.1"/>
<line x1="55.7" y1="631.6" x2="590.0" y2="631.6" stroke="#f2f2f2" stroke-width="1.1"/>
<line x1="55.7" y1="587.4" x2="590.0" y2="587.4" stroke="#f2f2f2" stroke-width="1.1"/>
<line x1="55.7" y1="543.3" x2="590.0" y2="543.3" stroke="#f2f2f2" stroke-width="1.1"/>
<line x1="127.7" y1="505.5" x2="127.7" y2="845.2" stroke="#f2f2f2" stroke-width="1.1"/>
<line x1="245.7" y1="505.5" x2="245.7" y2="845.2" stroke="#f2f2f2" stroke-width="1.1"/>
<line x1="363.7" y1="505.5" x2="363.7" y2="845.2" stroke="#f2f2f2" stroke-width="1.1"/>
<line x1="481.7" y1="505.5" x2="481.7" y2="845.2" stroke="#f2f2f2" stroke-width="1.1"/>
<line x1="55.7" y1="830.2" x2="590.0" y2="830.2" stroke="#ebebeb" stroke-width="2"/>
<line x1="55.7" y1="786.1" x2="590.0" y2="786.1" stroke="#ebebeb" stroke-width="2"/>
<line x1="55.7" y1="741.9" x2="590.0" y2="741.9" stroke="#ebebeb" stroke-width="2"/>
<line x1="55.7" y1="697.8" x2="590.0" y2="697.8" stroke="#ebebeb" stroke-width="2"/>
<line x1="55.7" y1="653.6" x2="590.0" y2="653.6" stroke="#ebebeb" stroke-width="2"/>
<line x1="55.7" y1="609.5" x2="590.0" y2="609.5" stroke="#ebebeb" stroke-width="2"/>
<line x1="55.7" y1="565.4" x2="590.0" y2="565.4" stroke="#ebebeb" stroke-width="2"/>
<line x1="55.7" y1="521.2" x2="590.0" y2="521.2" stroke="#ebebeb" stroke-width="2"/>
<line x1="68.7" y1="505.5" x2="68.7" y2="845.2" stroke="#ebebeb" stroke-width="2"/>
<line x1="186.7" y1="505.5" x2="186.7" y2="845.2" stroke="#ebebeb" stroke-width="2"/>
<line x1="304.7" y1="505.5" x2="304.7" y2="845.2" stroke="#ebebeb" stroke-width="2"/>
<line x1="422.7" y1="505.5" x2="422.7" y2="845.2" stroke="#ebebeb" stroke-width="2"/>
<line x1="540.7" y1="505.5" x2="540.7" y2="845.2" stroke="#ebebeb" stroke-width="2"/>
<text x="49.5" y="835.5" font-size="14.6" fill="#4d4d4d" text-anchor="end">0</text>
<text x="49.5" y="791.4" font-size="14.6" fill="#4d4d4d" text-anchor="end">2</text>
<text x="49.5" y="747.2" font-size="14.6" fill="#4d4d4d" text-anchor="end">4</text>
<text x="49.5" y="703.1" font-size="14.6" fill="#4d4d4d" text-anchor="end">6</text>
<text x="49.5" y="658.9" font-size="14.6" fill="#4d4d4d" text-anchor="end">8</text>
<text x="49.5" y="614.8" font-size="14.6" fill="#4d4d4d" text-anchor="end">10</text>
<text x="49.5" y="570.7" font-size="14.6" fill="#4d4d4d" text-anchor="end">12</text>
<text x="49.5" y="526.5" font-size="14.6" fill="#4d4d4d" text-anchor="end">14</text>
<text x="68.7" y="862" font-size="14.6" fill="#4d4d4d" text-anchor="middle">0</text>
<text x="186.7" y="862" font-size="14.6" fill="#4d4d4d" text-anchor="middle">20</text>
<text x="304.7" y="862" font-size="14.6" fill="#4d4d4d" text-anchor="middle">40</text>
<text x="422.7" y="862" font-size="14.6" fill="#4d4d4d" text-anchor="middle">60</text>
<text x="540.7" y="862" font-size="14.6" fill="#4d4d4d" text-anchor="middle">80</text>
<text x="318.0" y="887.8" font-size="16.8" fill="#000" text-anchor="middle">Age (years)</text>
<text transform="translate(22.2,679.2) rotate(-90)" x="0" y="0" font-size="16.8" fill="#000" text-anchor="middle">Telomere length (kb)</text>
<text x="319.9" y="494.7" font-size="19.2" fill="#000" text-anchor="middle">Granulocytes</text>
<text x="7.3" y="495.0" font-size="23.2" font-weight="bold" fill="#000" stroke="#000" stroke-width="0.7">B</text>
<path d="M83.5,542.1 L91.7,544.3 L99.9,546.5 L108.1,548.6 L116.3,550.8 L124.5,552.9 L132.7,555.0 L140.9,557.1 L149.1,559.1 L157.3,561.2 L165.5,563.2 L173.7,565.1 L181.9,567.1 L190.1,569.0 L198.3,570.9 L206.5,572.8 L214.7,574.7 L222.9,576.5 L231.1,578.3 L239.3,580.1 L247.5,581.9 L255.7,583.7 L263.9,585.4 L272.1,587.2 L280.3,588.9 L288.5,590.6 L296.7,592.3 L304.9,594.0 L313.1,595.6 L321.3,597.3 L329.5,598.9 L337.7,600.6 L345.9,602.2 L354.1,603.8 L362.3,605.4 L370.5,607.0 L378.7,608.5 L386.9,610.0 L395.1,611.5 L403.3,613.0 L411.5,614.5 L419.7,615.9 L427.9,617.3 L436.1,618.6 L444.3,620.0 L452.5,621.3 L460.7,622.6 L468.9,623.9 L477.1,625.2 L485.3,626.5 L493.5,627.7 L501.7,629.0 L509.9,630.2 L518.1,631.4 L526.3,632.6 L534.5,633.7 L542.7,634.8 L550.9,636.0 L559.1,637.0 L567.3,638.1" fill="none" stroke="#E8A010" stroke-width="2.5"/>
<path d="M83.5,587.3 L91.7,589.1 L99.9,590.8 L108.1,592.6 L116.3,594.3 L124.5,596.0 L132.7,597.7 L140.9,599.4 L149.1,601.1 L157.3,602.7 L165.5,604.4 L173.7,606.0 L181.9,607.6 L190.1,609.2 L198.3,610.8 L206.5,612.4 L214.7,614.0 L222.9,615.6 L231.1,617.2 L239.3,618.7 L247.5,620.3 L255.7,621.8 L263.9,623.3 L272.1,624.7 L280.3,626.2 L288.5,627.5 L296.7,628.9 L304.9,630.1 L313.1,631.4 L321.3,632.6 L329.5,633.8 L337.7,635.0 L345.9,636.2 L354.1,637.3 L362.3,638.4 L370.5,639.5 L378.7,640.5 L386.9,641.6 L395.1,642.6 L403.3,643.5 L411.5,644.5 L419.7,645.4 L427.9,646.2 L436.1,647.1 L444.3,648.0 L452.5,648.8 L460.7,649.6 L468.9,650.4 L477.1,651.2 L485.3,652.0 L493.5,652.8 L501.7,653.5 L509.9,654.2 L518.1,654.9 L526.3,655.6 L534.5,656.2 L542.7,656.9 L550.9,657.5 L559.1,658.0 L567.3,658.6" fill="none" stroke="#E8A010" stroke-width="2.5"/>
<path d="M83.5,621.6 L91.7,623.4 L99.9,625.1 L108.1,626.8 L116.3,628.5 L124.5,630.2 L132.7,631.9 L140.9,633.6 L149.1,635.2 L157.3,636.8 L165.5,638.4 L173.7,639.9 L181.9,641.5 L190.1,643.0 L198.3,644.5 L206.5,646.0 L214.7,647.5 L222.9,648.9 L231.1,650.4 L239.3,651.8 L247.5,653.3 L255.7,654.7 L263.9,656.0 L272.1,657.3 L280.3,658.6 L288.5,659.9 L296.7,661.1 L304.9,662.2 L313.1,663.4 L321.3,664.5 L329.5,665.6 L337.7,666.6 L345.9,667.7 L354.1,668.7 L362.3,669.7 L370.5,670.6 L378.7,671.6 L386.9,672.5 L395.1,673.4 L403.3,674.2 L411.5,675.0 L419.7,675.7 L427.9,676.4 L436.1,677.1 L444.3,677.8 L452.5,678.5 L460.7,679.2 L468.9,679.8 L477.1,680.5 L485.3,681.1 L493.5,681.7 L501.7,682.2 L509.9,682.8 L518.1,683.3 L526.3,683.8 L534.5,684.3 L542.7,684.7 L550.9,685.1 L559.1,685.5 L567.3,685.9" fill="none" stroke="#E8A010" stroke-width="2.5"/>
<path d="M83.5,651.0 L91.7,652.7 L99.9,654.3 L108.1,655.9 L116.3,657.5 L124.5,659.0 L132.7,660.6 L140.9,662.1 L149.1,663.6 L157.3,665.0 L165.5,666.4 L173.7,667.8 L181.9,669.2 L190.1,670.5 L198.3,671.8 L206.5,673.1 L214.7,674.3 L222.9,675.6 L231.1,676.8 L239.3,678.0 L247.5,679.1 L255.7,680.3 L263.9,681.4 L272.1,682.5 L280.3,683.6 L288.5,684.7 L296.7,685.7 L304.9,686.7 L313.1,687.7 L321.3,688.7 L329.5,689.7 L337.7,690.7 L345.9,691.6 L354.1,692.6 L362.3,693.5 L370.5,694.4 L378.7,695.2 L386.9,696.1 L395.1,696.9 L403.3,697.7 L411.5,698.5 L419.7,699.2 L427.9,699.9 L436.1,700.7 L444.3,701.3 L452.5,702.0 L460.7,702.7 L468.9,703.4 L477.1,704.0 L485.3,704.6 L493.5,705.3 L501.7,705.9 L509.9,706.4 L518.1,707.0 L526.3,707.6 L534.5,708.1 L542.7,708.6 L550.9,709.1 L559.1,709.6 L567.3,710.0" fill="none" stroke="#E8A010" stroke-width="2.5"/>
<path d="M83.5,674.5 L91.7,675.8 L99.9,677.1 L108.1,678.4 L116.3,679.7 L124.5,681.0 L132.7,682.2 L140.9,683.5 L149.1,684.7 L157.3,685.9 L165.5,687.1 L173.7,688.3 L181.9,689.5 L190.1,690.6 L198.3,691.8 L206.5,692.9 L214.7,694.0 L222.9,695.2 L231.1,696.3 L239.3,697.4 L247.5,698.5 L255.7,699.5 L263.9,700.6 L272.1,701.6 L280.3,702.6 L288.5,703.6 L296.7,704.6 L304.9,705.5 L313.1,706.5 L321.3,707.4 L329.5,708.3 L337.7,709.2 L345.9,710.1 L354.1,711.0 L362.3,711.9 L370.5,712.7 L378.7,713.6 L386.9,714.4 L395.1,715.2 L403.3,715.9 L411.5,716.6 L419.7,717.3 L427.9,718.0 L436.1,718.7 L444.3,719.3 L452.5,720.0 L460.7,720.6 L468.9,721.2 L477.1,721.8 L485.3,722.4 L493.5,723.0 L501.7,723.6 L509.9,724.1 L518.1,724.6 L526.3,725.1 L534.5,725.6 L542.7,726.1 L550.9,726.6 L559.1,727.0 L567.3,727.4" fill="none" stroke="#E8A010" stroke-width="2.5"/>
<g fill="#bbbbbb"><circle cx="74.6" cy="621.0" r="3.0"/><circle cx="74.6" cy="631.0" r="3.0"/><circle cx="74.6" cy="635.0" r="3.0"/><circle cx="74.6" cy="640.0" r="3.0"/><circle cx="80.5" cy="596.0" r="3.0"/><circle cx="80.5" cy="611.0" r="3.0"/><circle cx="80.5" cy="632.4" r="3.0"/><circle cx="80.5" cy="638.0" r="3.0"/><circle cx="80.5" cy="645.0" r="3.0"/><circle cx="80.5" cy="653.0" r="3.0"/><circle cx="86.4" cy="605.6" r="3.0"/><circle cx="86.4" cy="610.3" r="3.0"/><circle cx="86.4" cy="615.0" r="3.0"/><circle cx="86.4" cy="625.0" r="3.0"/><circle cx="86.4" cy="628.0" r="3.0"/><circle cx="86.4" cy="637.0" r="3.0"/><circle cx="86.4" cy="643.6" r="3.0"/><circle cx="92.3" cy="543.0" r="3.0"/><circle cx="92.3" cy="557.6" r="3.0"/><circle cx="92.3" cy="586.0" r="3.0"/><circle cx="92.3" cy="589.0" r="3.0"/><circle cx="92.3" cy="610.0" r="3.0"/><circle cx="92.3" cy="615.0" r="3.0"/><circle cx="92.3" cy="637.0" r="3.0"/><circle cx="92.3" cy="641.0" r="3.0"/><circle cx="92.3" cy="645.0" r="3.0"/><circle cx="98.2" cy="579.0" r="3.0"/><circle cx="98.2" cy="581.6" r="3.0"/><circle cx="98.2" cy="595.0" r="3.0"/><circle cx="98.2" cy="599.7" r="3.0"/><circle cx="98.2" cy="604.3" r="3.0"/><circle cx="98.2" cy="609.0" r="3.0"/><circle cx="98.2" cy="614.4" r="3.0"/><circle cx="98.2" cy="623.0" r="3.0"/><circle cx="98.2" cy="627.0" r="3.0"/><circle cx="98.2" cy="634.0" r="3.0"/><circle cx="98.2" cy="640.0" r="3.0"/><circle cx="98.2" cy="643.7" r="3.0"/><circle cx="98.2" cy="647.3" r="3.0"/><circle cx="98.2" cy="651.0" r="3.0"/><circle cx="98.2" cy="662.0" r="3.0"/><circle cx="98.2" cy="694.4" r="3.0"/><circle cx="104.1" cy="568.0" r="3.0"/><circle cx="104.1" cy="593.0" r="3.0"/><circle cx="104.1" cy="599.0" r="3.0"/><circle cx="104.1" cy="611.0" r="3.0"/><circle cx="104.1" cy="620.0" r="3.0"/><circle cx="104.1" cy="633.0" r="3.0"/><circle cx="104.1" cy="637.5" r="3.0"/><circle cx="104.1" cy="642.0" r="3.0"/><circle cx="104.1" cy="646.5" r="3.0"/><circle cx="104.1" cy="651.0" r="3.0"/><circle cx="104.1" cy="678.0" r="3.0"/><circle cx="110.0" cy="582.4" r="3.0"/><circle cx="110.0" cy="585.0" r="3.0"/><circle cx="110.0" cy="597.0" r="3.0"/><circle cx="110.0" cy="603.0" r="3.0"/><circle cx="110.0" cy="610.0" r="3.0"/><circle cx="110.0" cy="615.0" r="3.0"/><circle cx="110.0" cy="629.0" r="3.0"/><circle cx="110.0" cy="636.0" r="3.0"/><circle cx="110.0" cy="643.6" r="3.0"/><circle cx="110.0" cy="650.0" r="3.0"/><circle cx="110.0" cy="655.0" r="3.0"/><circle cx="115.9" cy="597.6" r="3.0"/><circle cx="115.9" cy="603.6" r="3.0"/><circle cx="115.9" cy="627.0" r="3.0"/><circle cx="115.9" cy="630.0" r="3.0"/><circle cx="115.9" cy="639.0" r="3.0"/><circle cx="115.9" cy="645.6" r="3.0"/><circle cx="115.9" cy="664.0" r="3.0"/><circle cx="73.0" cy="559.6" r="3.0"/><circle cx="71.4" cy="595.0" r="3.0"/><circle cx="121.8" cy="610.0" r="3.0"/><circle cx="121.8" cy="616.0" r="3.0"/><circle cx="121.8" cy="626.0" r="3.0"/><circle cx="121.8" cy="629.5" r="3.0"/><circle cx="121.8" cy="633.0" r="3.0"/><circle cx="121.8" cy="643.0" r="3.0"/><circle cx="121.8" cy="653.0" r="3.0"/><circle cx="121.8" cy="658.0" r="3.0"/><circle cx="121.8" cy="671.4" r="3.0"/><circle cx="127.7" cy="546.0" r="3.0"/><circle cx="127.7" cy="568.0" r="3.0"/><circle cx="127.7" cy="577.0" r="3.0"/><circle cx="127.7" cy="623.0" r="3.0"/><circle cx="127.7" cy="626.8" r="3.0"/><circle cx="127.7" cy="630.5" r="3.0"/><circle cx="127.7" cy="634.2" r="3.0"/><circle cx="127.7" cy="638.0" r="3.0"/><circle cx="127.7" cy="652.0" r="3.0"/><circle cx="127.7" cy="677.4" r="3.0"/><circle cx="133.6" cy="571.0" r="3.0"/><circle cx="133.6" cy="605.0" r="3.0"/><circle cx="133.6" cy="617.0" r="3.0"/><circle cx="133.6" cy="622.0" r="3.0"/><circle cx="133.6" cy="634.0" r="3.0"/><circle cx="133.6" cy="640.0" r="3.0"/><circle cx="133.6" cy="649.4" r="3.0"/><circle cx="133.6" cy="656.0" r="3.0"/><circle cx="133.6" cy="670.6" r="3.0"/><circle cx="139.5" cy="605.0" r="3.0"/><circle cx="139.5" cy="608.5" r="3.0"/><circle cx="139.5" cy="612.0" r="3.0"/><circle cx="139.5" cy="613.4" r="3.0"/><circle cx="139.5" cy="618.0" r="3.0"/><circle cx="139.5" cy="628.0" r="3.0"/><circle cx="139.5" cy="631.5" r="3.0"/><circle cx="139.5" cy="635.0" r="3.0"/><circle cx="139.5" cy="639.4" r="3.0"/><circle cx="139.5" cy="647.4" r="3.0"/><circle cx="139.5" cy="652.0" r="3.0"/><circle cx="139.5" cy="660.0" r="3.0"/><circle cx="139.5" cy="668.6" r="3.0"/><circle cx="145.4" cy="600.6" r="3.0"/><circle cx="145.4" cy="614.6" r="3.0"/><circle cx="145.4" cy="620.6" r="3.0"/><circle cx="145.4" cy="626.0" r="3.0"/><circle cx="145.4" cy="656.0" r="3.0"/><circle cx="151.3" cy="583.4" r="3.0"/><circle cx="151.3" cy="596.0" r="3.0"/><circle cx="151.3" cy="632.0" r="3.0"/><circle cx="151.3" cy="635.0" r="3.0"/><circle cx="151.3" cy="644.6" r="3.0"/><circle cx="151.3" cy="649.3" r="3.0"/><circle cx="151.3" cy="654.0" r="3.0"/><circle cx="151.3" cy="660.0" r="3.0"/><circle cx="151.3" cy="664.0" r="3.0"/><circle cx="157.2" cy="595.4" r="3.0"/><circle cx="157.2" cy="616.0" r="3.0"/><circle cx="157.2" cy="620.3" r="3.0"/><circle cx="157.2" cy="624.7" r="3.0"/><circle cx="157.2" cy="629.0" r="3.0"/><circle cx="157.2" cy="631.0" r="3.0"/><circle cx="157.2" cy="636.0" r="3.0"/><circle cx="157.2" cy="641.0" r="3.0"/><circle cx="157.2" cy="649.4" r="3.0"/><circle cx="157.2" cy="661.0" r="3.0"/><circle cx="163.1" cy="582.6" r="3.0"/><circle cx="163.1" cy="603.0" r="3.0"/><circle cx="163.1" cy="627.4" r="3.0"/><circle cx="163.1" cy="632.0" r="3.0"/><circle cx="163.1" cy="636.7" r="3.0"/><circle cx="163.1" cy="641.4" r="3.0"/><circle cx="163.1" cy="646.0" r="3.0"/><circle cx="163.1" cy="653.0" r="3.0"/><circle cx="163.1" cy="657.0" r="3.0"/><circle cx="163.1" cy="668.0" r="3.0"/><circle cx="163.1" cy="672.0" r="3.0"/><circle cx="169.0" cy="614.0" r="3.0"/><circle cx="169.0" cy="618.5" r="3.0"/><circle cx="169.0" cy="623.0" r="3.0"/><circle cx="169.0" cy="631.0" r="3.0"/><circle cx="169.0" cy="636.0" r="3.0"/><circle cx="169.0" cy="650.0" r="3.0"/><circle cx="169.0" cy="653.0" r="3.0"/><circle cx="169.0" cy="668.0" r="3.0"/><circle cx="169.0" cy="673.0" r="3.0"/><circle cx="174.9" cy="592.0" r="3.0"/><circle cx="174.9" cy="625.0" r="3.0"/><circle cx="174.9" cy="630.0" r="3.0"/><circle cx="174.9" cy="635.0" r="3.0"/><circle cx="174.9" cy="644.0" r="3.0"/><circle cx="174.9" cy="660.0" r="3.0"/><circle cx="174.9" cy="663.5" r="3.0"/><circle cx="174.9" cy="667.0" r="3.0"/><circle cx="180.8" cy="598.6" r="3.0"/><circle cx="180.8" cy="607.4" r="3.0"/><circle cx="180.8" cy="626.6" r="3.0"/><circle cx="180.8" cy="637.4" r="3.0"/><circle cx="180.8" cy="657.4" r="3.0"/><circle cx="180.8" cy="673.0" r="3.0"/><circle cx="180.8" cy="681.0" r="3.0"/><circle cx="180.8" cy="685.0" r="3.0"/><circle cx="186.7" cy="601.0" r="3.0"/><circle cx="186.7" cy="608.6" r="3.0"/><circle cx="186.7" cy="627.4" r="3.0"/><circle cx="186.7" cy="631.0" r="3.0"/><circle cx="186.7" cy="640.6" r="3.0"/><circle cx="186.7" cy="645.1" r="3.0"/><circle cx="186.7" cy="649.5" r="3.0"/><circle cx="186.7" cy="654.0" r="3.0"/><circle cx="186.7" cy="661.0" r="3.0"/><circle cx="186.7" cy="670.0" r="3.0"/><circle cx="186.7" cy="675.0" r="3.0"/><circle cx="192.6" cy="617.0" r="3.0"/><circle cx="192.6" cy="622.0" r="3.0"/><circle cx="192.6" cy="627.4" r="3.0"/><circle cx="192.6" cy="647.0" r="3.0"/><circle cx="192.6" cy="656.0" r="3.0"/><circle cx="192.6" cy="664.0" r="3.0"/><circle cx="192.6" cy="673.0" r="3.0"/><circle cx="198.5" cy="614.0" r="3.0"/><circle cx="198.5" cy="617.5" r="3.0"/><circle cx="198.5" cy="621.0" r="3.0"/><circle cx="198.5" cy="638.6" r="3.0"/><circle cx="198.5" cy="645.0" r="3.0"/><circle cx="198.5" cy="649.0" r="3.0"/><circle cx="198.5" cy="653.0" r="3.0"/><circle cx="198.5" cy="657.0" r="3.0"/><circle cx="198.5" cy="662.6" r="3.0"/><circle cx="198.5" cy="695.4" r="3.0"/><circle cx="204.4" cy="602.6" r="3.0"/><circle cx="204.4" cy="660.0" r="3.0"/><circle cx="204.4" cy="665.0" r="3.0"/><circle cx="204.4" cy="672.6" r="3.0"/><circle cx="204.4" cy="704.6" r="3.0"/><circle cx="210.3" cy="620.6" r="3.0"/><circle cx="210.3" cy="633.4" r="3.0"/><circle cx="210.3" cy="654.6" r="3.0"/><circle cx="210.3" cy="658.4" r="3.0"/><circle cx="210.3" cy="662.2" r="3.0"/><circle cx="210.3" cy="666.0" r="3.0"/><circle cx="210.3" cy="677.4" r="3.0"/><circle cx="210.3" cy="686.6" r="3.0"/><circle cx="216.2" cy="600.6" r="3.0"/><circle cx="216.2" cy="623.4" r="3.0"/><circle cx="216.2" cy="641.0" r="3.0"/><circle cx="216.2" cy="655.0" r="3.0"/><circle cx="216.2" cy="658.5" r="3.0"/><circle cx="216.2" cy="662.0" r="3.0"/><circle cx="216.2" cy="666.0" r="3.0"/><circle cx="216.2" cy="670.5" r="3.0"/><circle cx="216.2" cy="675.0" r="3.0"/><circle cx="216.2" cy="690.0" r="3.0"/><circle cx="222.1" cy="652.0" r="3.0"/><circle cx="222.1" cy="654.0" r="3.0"/><circle cx="222.1" cy="660.0" r="3.0"/><circle cx="222.1" cy="666.0" r="3.0"/><circle cx="222.1" cy="676.6" r="3.0"/><circle cx="222.1" cy="685.0" r="3.0"/><circle cx="228.0" cy="632.0" r="3.0"/><circle cx="228.0" cy="641.0" r="3.0"/><circle cx="228.0" cy="645.0" r="3.0"/><circle cx="228.0" cy="649.0" r="3.0"/><circle cx="228.0" cy="664.6" r="3.0"/><circle cx="228.0" cy="670.0" r="3.0"/><circle cx="233.9" cy="560.0" r="3.0"/><circle cx="233.9" cy="611.4" r="3.0"/><circle cx="233.9" cy="615.0" r="3.0"/><circle cx="233.9" cy="618.6" r="3.0"/><circle cx="233.9" cy="629.4" r="3.0"/><circle cx="233.9" cy="645.0" r="3.0"/><circle cx="233.9" cy="650.0" r="3.0"/><circle cx="233.9" cy="655.0" r="3.0"/><circle cx="233.9" cy="674.0" r="3.0"/><circle cx="233.9" cy="688.0" r="3.0"/><circle cx="233.9" cy="698.0" r="3.0"/><circle cx="239.8" cy="612.6" r="3.0"/><circle cx="239.8" cy="637.4" r="3.0"/><circle cx="239.8" cy="640.7" r="3.0"/><circle cx="239.8" cy="644.0" r="3.0"/><circle cx="239.8" cy="651.4" r="3.0"/><circle cx="239.8" cy="674.6" r="3.0"/><circle cx="239.8" cy="679.8" r="3.0"/><circle cx="239.8" cy="685.0" r="3.0"/><circle cx="245.7" cy="643.0" r="3.0"/><circle cx="245.7" cy="649.0" r="3.0"/><circle cx="245.7" cy="661.0" r="3.0"/><circle cx="245.7" cy="663.0" r="3.0"/><circle cx="245.7" cy="672.0" r="3.0"/><circle cx="245.7" cy="678.0" r="3.0"/><circle cx="245.7" cy="683.0" r="3.0"/><circle cx="245.7" cy="697.0" r="3.0"/><circle cx="251.6" cy="631.0" r="3.0"/><circle cx="251.6" cy="646.0" r="3.0"/><circle cx="251.6" cy="658.0" r="3.0"/><circle cx="251.6" cy="667.0" r="3.0"/><circle cx="251.6" cy="672.0" r="3.0"/><circle cx="257.5" cy="627.0" r="3.0"/><circle cx="257.5" cy="638.6" r="3.0"/><circle cx="257.5" cy="644.6" r="3.0"/><circle cx="257.5" cy="650.6" r="3.0"/><circle cx="257.5" cy="653.8" r="3.0"/><circle cx="257.5" cy="657.0" r="3.0"/><circle cx="257.5" cy="674.0" r="3.0"/><circle cx="257.5" cy="678.0" r="3.0"/><circle cx="257.5" cy="698.0" r="3.0"/><circle cx="263.4" cy="628.0" r="3.0"/><circle cx="263.4" cy="637.0" r="3.0"/><circle cx="263.4" cy="645.4" r="3.0"/><circle cx="263.4" cy="667.0" r="3.0"/><circle cx="263.4" cy="670.0" r="3.0"/><circle cx="263.4" cy="688.0" r="3.0"/><circle cx="263.4" cy="693.0" r="3.0"/><circle cx="269.3" cy="618.6" r="3.0"/><circle cx="269.3" cy="646.6" r="3.0"/><circle cx="269.3" cy="653.4" r="3.0"/><circle cx="269.3" cy="666.6" r="3.0"/><circle cx="269.3" cy="671.0" r="3.0"/><circle cx="269.3" cy="685.0" r="3.0"/><circle cx="275.2" cy="634.6" r="3.0"/><circle cx="275.2" cy="646.6" r="3.0"/><circle cx="275.2" cy="655.0" r="3.0"/><circle cx="275.2" cy="658.0" r="3.0"/><circle cx="275.2" cy="664.6" r="3.0"/><circle cx="275.2" cy="680.6" r="3.0"/><circle cx="275.2" cy="688.0" r="3.0"/><circle cx="281.1" cy="596.6" r="3.0"/><circle cx="281.1" cy="606.0" r="3.0"/><circle cx="281.1" cy="609.4" r="3.0"/><circle cx="281.1" cy="647.0" r="3.0"/><circle cx="281.1" cy="651.0" r="3.0"/><circle cx="281.1" cy="655.0" r="3.0"/><circle cx="281.1" cy="661.0" r="3.0"/><circle cx="281.1" cy="703.4" r="3.0"/><circle cx="287.0" cy="598.0" r="3.0"/><circle cx="287.0" cy="622.0" r="3.0"/><circle cx="287.0" cy="632.0" r="3.0"/><circle cx="287.0" cy="650.0" r="3.0"/><circle cx="287.0" cy="667.0" r="3.0"/><circle cx="287.0" cy="670.0" r="3.0"/><circle cx="287.0" cy="685.4" r="3.0"/><circle cx="292.9" cy="630.0" r="3.0"/><circle cx="292.9" cy="642.0" r="3.0"/><circle cx="292.9" cy="644.0" r="3.0"/><circle cx="292.9" cy="651.4" r="3.0"/><circle cx="292.9" cy="670.0" r="3.0"/><circle cx="292.9" cy="676.0" r="3.0"/><circle cx="292.9" cy="686.0" r="3.0"/><circle cx="292.9" cy="690.0" r="3.0"/><circle cx="298.8" cy="608.6" r="3.0"/><circle cx="298.8" cy="631.4" r="3.0"/><circle cx="298.8" cy="640.6" r="3.0"/><circle cx="298.8" cy="649.0" r="3.0"/><circle cx="298.8" cy="655.4" r="3.0"/><circle cx="298.8" cy="664.0" r="3.0"/><circle cx="298.8" cy="667.7" r="3.0"/><circle cx="298.8" cy="671.3" r="3.0"/><circle cx="298.8" cy="675.0" r="3.0"/><circle cx="304.7" cy="638.0" r="3.0"/><circle cx="304.7" cy="648.0" r="3.0"/><circle cx="304.7" cy="666.0" r="3.0"/><circle cx="304.7" cy="669.7" r="3.0"/><circle cx="304.7" cy="673.3" r="3.0"/><circle cx="304.7" cy="677.0" r="3.0"/><circle cx="304.7" cy="689.4" r="3.0"/><circle cx="304.7" cy="696.0" r="3.0"/><circle cx="304.7" cy="705.4" r="3.0"/><circle cx="310.6" cy="623.4" r="3.0"/><circle cx="310.6" cy="626.7" r="3.0"/><circle cx="310.6" cy="630.0" r="3.0"/><circle cx="310.6" cy="642.0" r="3.0"/><circle cx="310.6" cy="661.0" r="3.0"/><circle cx="310.6" cy="665.3" r="3.0"/><circle cx="310.6" cy="669.7" r="3.0"/><circle cx="310.6" cy="674.0" r="3.0"/><circle cx="316.5" cy="606.0" r="3.0"/><circle cx="316.5" cy="625.4" r="3.0"/><circle cx="316.5" cy="654.0" r="3.0"/><circle cx="316.5" cy="663.0" r="3.0"/><circle cx="316.5" cy="669.0" r="3.0"/><circle cx="316.5" cy="674.6" r="3.0"/><circle cx="316.5" cy="685.4" r="3.0"/><circle cx="316.5" cy="702.6" r="3.0"/><circle cx="322.4" cy="609.4" r="3.0"/><circle cx="322.4" cy="631.4" r="3.0"/><circle cx="322.4" cy="650.0" r="3.0"/><circle cx="322.4" cy="666.0" r="3.0"/><circle cx="322.4" cy="670.3" r="3.0"/><circle cx="322.4" cy="674.7" r="3.0"/><circle cx="322.4" cy="679.0" r="3.0"/><circle cx="322.4" cy="686.0" r="3.0"/><circle cx="322.4" cy="690.0" r="3.0"/><circle cx="322.4" cy="713.0" r="3.0"/><circle cx="328.3" cy="603.4" r="3.0"/><circle cx="328.3" cy="629.0" r="3.0"/><circle cx="328.3" cy="634.0" r="3.0"/><circle cx="328.3" cy="646.0" r="3.0"/><circle cx="328.3" cy="650.0" r="3.0"/><circle cx="328.3" cy="668.0" r="3.0"/><circle cx="328.3" cy="686.0" r="3.0"/><circle cx="334.2" cy="607.4" r="3.0"/><circle cx="334.2" cy="648.6" r="3.0"/><circle cx="334.2" cy="653.3" r="3.0"/><circle cx="334.2" cy="658.0" r="3.0"/><circle cx="334.2" cy="670.0" r="3.0"/><circle cx="334.2" cy="674.3" r="3.0"/><circle cx="334.2" cy="678.7" r="3.0"/><circle cx="334.2" cy="683.0" r="3.0"/><circle cx="334.2" cy="687.4" r="3.0"/><circle cx="340.1" cy="616.6" r="3.0"/><circle cx="340.1" cy="652.0" r="3.0"/><circle cx="340.1" cy="655.5" r="3.0"/><circle cx="340.1" cy="659.0" r="3.0"/><circle cx="340.1" cy="672.6" r="3.0"/><circle cx="340.1" cy="682.0" r="3.0"/><circle cx="340.1" cy="691.0" r="3.0"/><circle cx="340.1" cy="702.6" r="3.0"/><circle cx="346.0" cy="657.0" r="3.0"/><circle cx="346.0" cy="664.0" r="3.0"/><circle cx="346.0" cy="669.0" r="3.0"/><circle cx="346.0" cy="674.0" r="3.0"/><circle cx="346.0" cy="690.6" r="3.0"/><circle cx="346.0" cy="705.0" r="3.0"/><circle cx="346.0" cy="719.4" r="3.0"/><circle cx="351.9" cy="634.0" r="3.0"/><circle cx="351.9" cy="641.4" r="3.0"/><circle cx="351.9" cy="649.0" r="3.0"/><circle cx="351.9" cy="660.6" r="3.0"/><circle cx="351.9" cy="667.0" r="3.0"/><circle cx="351.9" cy="669.0" r="3.0"/><circle cx="351.9" cy="692.6" r="3.0"/><circle cx="351.9" cy="703.4" r="3.0"/><circle cx="357.8" cy="628.6" r="3.0"/><circle cx="357.8" cy="631.8" r="3.0"/><circle cx="357.8" cy="635.0" r="3.0"/><circle cx="357.8" cy="648.6" r="3.0"/><circle cx="357.8" cy="666.0" r="3.0"/><circle cx="357.8" cy="669.5" r="3.0"/><circle cx="357.8" cy="673.0" r="3.0"/><circle cx="357.8" cy="679.0" r="3.0"/><circle cx="357.8" cy="693.0" r="3.0"/><circle cx="363.7" cy="650.0" r="3.0"/><circle cx="363.7" cy="654.0" r="3.0"/><circle cx="363.7" cy="658.0" r="3.0"/><circle cx="363.7" cy="662.0" r="3.0"/><circle cx="363.7" cy="666.0" r="3.0"/><circle cx="363.7" cy="670.0" r="3.0"/><circle cx="363.7" cy="674.0" r="3.0"/><circle cx="363.7" cy="680.0" r="3.0"/><circle cx="363.7" cy="689.0" r="3.0"/><circle cx="363.7" cy="694.0" r="3.0"/><circle cx="369.6" cy="617.4" r="3.0"/><circle cx="369.6" cy="631.4" r="3.0"/><circle cx="369.6" cy="655.0" r="3.0"/><circle cx="369.6" cy="659.0" r="3.0"/><circle cx="369.6" cy="680.0" r="3.0"/><circle cx="369.6" cy="690.6" r="3.0"/><circle cx="369.6" cy="694.0" r="3.0"/><circle cx="369.6" cy="697.4" r="3.0"/><circle cx="375.5" cy="640.0" r="3.0"/><circle cx="375.5" cy="644.3" r="3.0"/><circle cx="375.5" cy="648.7" r="3.0"/><circle cx="375.5" cy="653.0" r="3.0"/><circle cx="375.5" cy="672.0" r="3.0"/><circle cx="375.5" cy="675.5" r="3.0"/><circle cx="375.5" cy="679.0" r="3.0"/><circle cx="375.5" cy="703.4" r="3.0"/><circle cx="381.4" cy="623.4" r="3.0"/><circle cx="381.4" cy="638.6" r="3.0"/><circle cx="381.4" cy="648.0" r="3.0"/><circle cx="381.4" cy="652.0" r="3.0"/><circle cx="381.4" cy="673.4" r="3.0"/><circle cx="381.4" cy="684.6" r="3.0"/><circle cx="381.4" cy="696.0" r="3.0"/><circle cx="387.3" cy="595.4" r="3.0"/><circle cx="387.3" cy="640.0" r="3.0"/><circle cx="387.3" cy="656.0" r="3.0"/><circle cx="387.3" cy="660.0" r="3.0"/><circle cx="387.3" cy="664.0" r="3.0"/><circle cx="387.3" cy="668.0" r="3.0"/><circle cx="387.3" cy="672.0" r="3.0"/><circle cx="387.3" cy="689.4" r="3.0"/><circle cx="387.3" cy="706.6" r="3.0"/><circle cx="393.2" cy="623.4" r="3.0"/><circle cx="393.2" cy="631.4" r="3.0"/><circle cx="393.2" cy="654.0" r="3.0"/><circle cx="393.2" cy="667.0" r="3.0"/><circle cx="393.2" cy="670.0" r="3.0"/><circle cx="393.2" cy="686.0" r="3.0"/><circle cx="393.2" cy="694.6" r="3.0"/><circle cx="393.2" cy="700.6" r="3.0"/><circle cx="393.2" cy="705.4" r="3.0"/><circle cx="399.1" cy="660.0" r="3.0"/><circle cx="399.1" cy="664.0" r="3.0"/><circle cx="399.1" cy="672.0" r="3.0"/><circle cx="399.1" cy="676.2" r="3.0"/><circle cx="399.1" cy="680.5" r="3.0"/><circle cx="399.1" cy="684.8" r="3.0"/><circle cx="399.1" cy="689.0" r="3.0"/><circle cx="405.0" cy="590.6" r="3.0"/><circle cx="405.0" cy="629.0" r="3.0"/><circle cx="405.0" cy="633.0" r="3.0"/><circle cx="405.0" cy="653.0" r="3.0"/><circle cx="405.0" cy="660.6" r="3.0"/><circle cx="405.0" cy="670.6" r="3.0"/><circle cx="405.0" cy="696.0" r="3.0"/><circle cx="410.9" cy="650.0" r="3.0"/><circle cx="410.9" cy="661.4" r="3.0"/><circle cx="410.9" cy="664.6" r="3.0"/><circle cx="410.9" cy="674.0" r="3.0"/><circle cx="410.9" cy="684.6" r="3.0"/><circle cx="416.8" cy="638.6" r="3.0"/><circle cx="416.8" cy="644.0" r="3.0"/><circle cx="416.8" cy="654.6" r="3.0"/><circle cx="416.8" cy="658.7" r="3.0"/><circle cx="416.8" cy="662.8" r="3.0"/><circle cx="416.8" cy="666.9" r="3.0"/><circle cx="416.8" cy="671.0" r="3.0"/><circle cx="416.8" cy="682.6" r="3.0"/><circle cx="416.8" cy="692.0" r="3.0"/><circle cx="422.7" cy="641.4" r="3.0"/><circle cx="422.7" cy="654.6" r="3.0"/><circle cx="422.7" cy="670.0" r="3.0"/><circle cx="422.7" cy="673.0" r="3.0"/><circle cx="422.7" cy="683.0" r="3.0"/><circle cx="422.7" cy="689.0" r="3.0"/><circle cx="422.7" cy="696.6" r="3.0"/><circle cx="428.6" cy="608.6" r="3.0"/><circle cx="428.6" cy="613.4" r="3.0"/><circle cx="428.6" cy="649.4" r="3.0"/><circle cx="428.6" cy="677.4" r="3.0"/><circle cx="428.6" cy="683.0" r="3.0"/><circle cx="428.6" cy="686.5" r="3.0"/><circle cx="428.6" cy="690.0" r="3.0"/><circle cx="428.6" cy="706.0" r="3.0"/><circle cx="434.5" cy="642.6" r="3.0"/><circle cx="434.5" cy="657.4" r="3.0"/><circle cx="434.5" cy="660.7" r="3.0"/><circle cx="434.5" cy="664.0" r="3.0"/><circle cx="434.5" cy="676.6" r="3.0"/><circle cx="440.4" cy="624.0" r="3.0"/><circle cx="440.4" cy="652.0" r="3.0"/><circle cx="440.4" cy="656.0" r="3.0"/><circle cx="440.4" cy="672.0" r="3.0"/><circle cx="440.4" cy="677.0" r="3.0"/><circle cx="440.4" cy="683.4" r="3.0"/><circle cx="440.4" cy="691.4" r="3.0"/><circle cx="440.4" cy="694.6" r="3.0"/><circle cx="446.3" cy="615.4" r="3.0"/><circle cx="446.3" cy="632.0" r="3.0"/><circle cx="446.3" cy="639.0" r="3.0"/><circle cx="446.3" cy="643.0" r="3.0"/><circle cx="446.3" cy="671.4" r="3.0"/><circle cx="446.3" cy="673.0" r="3.0"/><circle cx="446.3" cy="679.0" r="3.0"/><circle cx="446.3" cy="685.0" r="3.0"/><circle cx="446.3" cy="707.4" r="3.0"/><circle cx="452.2" cy="645.0" r="3.0"/><circle cx="452.2" cy="654.6" r="3.0"/><circle cx="452.2" cy="658.0" r="3.0"/><circle cx="452.2" cy="664.0" r="3.0"/><circle cx="452.2" cy="669.0" r="3.0"/><circle cx="452.2" cy="685.4" r="3.0"/><circle cx="452.2" cy="697.4" r="3.0"/><circle cx="452.2" cy="734.0" r="3.0"/><circle cx="458.1" cy="633.0" r="3.0"/><circle cx="458.1" cy="647.0" r="3.0"/><circle cx="458.1" cy="660.6" r="3.0"/><circle cx="458.1" cy="673.0" r="3.0"/><circle cx="458.1" cy="678.0" r="3.0"/><circle cx="458.1" cy="691.4" r="3.0"/><circle cx="458.1" cy="713.4" r="3.0"/><circle cx="464.0" cy="648.0" r="3.0"/><circle cx="464.0" cy="665.4" r="3.0"/><circle cx="464.0" cy="673.0" r="3.0"/><circle cx="464.0" cy="684.0" r="3.0"/><circle cx="464.0" cy="696.0" r="3.0"/><circle cx="464.0" cy="701.0" r="3.0"/><circle cx="469.9" cy="627.4" r="3.0"/><circle cx="469.9" cy="662.6" r="3.0"/><circle cx="469.9" cy="674.0" r="3.0"/><circle cx="469.9" cy="678.5" r="3.0"/><circle cx="469.9" cy="683.0" r="3.0"/><circle cx="469.9" cy="692.0" r="3.0"/><circle cx="469.9" cy="698.0" r="3.0"/><circle cx="469.9" cy="705.4" r="3.0"/><circle cx="469.9" cy="713.4" r="3.0"/><circle cx="475.8" cy="643.6" r="3.0"/><circle cx="475.8" cy="646.4" r="3.0"/><circle cx="475.8" cy="652.4" r="3.0"/><circle cx="475.8" cy="659.0" r="3.0"/><circle cx="475.8" cy="675.0" r="3.0"/><circle cx="475.8" cy="695.6" r="3.0"/><circle cx="475.8" cy="701.0" r="3.0"/><circle cx="475.8" cy="710.4" r="3.0"/><circle cx="481.7" cy="614.4" r="3.0"/><circle cx="481.7" cy="666.4" r="3.0"/><circle cx="481.7" cy="675.6" r="3.0"/><circle cx="481.7" cy="684.0" r="3.0"/><circle cx="481.7" cy="690.0" r="3.0"/><circle cx="481.7" cy="702.4" r="3.0"/><circle cx="487.6" cy="636.4" r="3.0"/><circle cx="487.6" cy="651.6" r="3.0"/><circle cx="487.6" cy="670.0" r="3.0"/><circle cx="487.6" cy="677.0" r="3.0"/><circle cx="487.6" cy="680.5" r="3.0"/><circle cx="487.6" cy="684.0" r="3.0"/><circle cx="487.6" cy="705.6" r="3.0"/><circle cx="487.6" cy="715.0" r="3.0"/><circle cx="493.5" cy="649.6" r="3.0"/><circle cx="493.5" cy="653.6" r="3.0"/><circle cx="493.5" cy="672.0" r="3.0"/><circle cx="493.5" cy="675.6" r="3.0"/><circle cx="493.5" cy="687.6" r="3.0"/><circle cx="493.5" cy="705.6" r="3.0"/><circle cx="499.4" cy="648.4" r="3.0"/><circle cx="499.4" cy="654.4" r="3.0"/><circle cx="499.4" cy="671.0" r="3.0"/><circle cx="499.4" cy="679.6" r="3.0"/><circle cx="499.4" cy="698.4" r="3.0"/><circle cx="499.4" cy="708.4" r="3.0"/><circle cx="499.4" cy="719.6" r="3.0"/><circle cx="505.3" cy="662.4" r="3.0"/><circle cx="505.3" cy="683.0" r="3.0"/><circle cx="505.3" cy="687.0" r="3.0"/><circle cx="505.3" cy="691.0" r="3.0"/><circle cx="505.3" cy="695.0" r="3.0"/><circle cx="511.2" cy="632.0" r="3.0"/><circle cx="511.2" cy="651.0" r="3.0"/><circle cx="511.2" cy="668.0" r="3.0"/><circle cx="511.2" cy="672.0" r="3.0"/><circle cx="511.2" cy="689.6" r="3.0"/><circle cx="511.2" cy="695.6" r="3.0"/><circle cx="511.2" cy="703.0" r="3.0"/><circle cx="517.1" cy="659.0" r="3.0"/><circle cx="517.1" cy="669.6" r="3.0"/><circle cx="517.1" cy="674.4" r="3.0"/><circle cx="517.1" cy="683.0" r="3.0"/><circle cx="517.1" cy="687.5" r="3.0"/><circle cx="517.1" cy="692.0" r="3.0"/><circle cx="517.1" cy="699.0" r="3.0"/><circle cx="517.1" cy="702.0" r="3.0"/><circle cx="523.0" cy="639.0" r="3.0"/><circle cx="523.0" cy="670.4" r="3.0"/><circle cx="523.0" cy="675.0" r="3.0"/><circle cx="523.0" cy="682.0" r="3.0"/><circle cx="523.0" cy="687.0" r="3.0"/><circle cx="523.0" cy="692.0" r="3.0"/><circle cx="523.0" cy="706.0" r="3.0"/><circle cx="528.9" cy="662.4" r="3.0"/><circle cx="528.9" cy="665.7" r="3.0"/><circle cx="528.9" cy="669.0" r="3.0"/><circle cx="528.9" cy="678.0" r="3.0"/><circle cx="528.9" cy="691.0" r="3.0"/><circle cx="528.9" cy="694.5" r="3.0"/><circle cx="528.9" cy="698.0" r="3.0"/><circle cx="528.9" cy="715.6" r="3.0"/><circle cx="528.9" cy="719.0" r="3.0"/><circle cx="528.9" cy="722.4" r="3.0"/><circle cx="534.8" cy="655.0" r="3.0"/><circle cx="534.8" cy="659.0" r="3.0"/><circle cx="534.8" cy="665.0" r="3.0"/><circle cx="534.8" cy="668.8" r="3.0"/><circle cx="534.8" cy="672.6" r="3.0"/><circle cx="534.8" cy="676.4" r="3.0"/><circle cx="534.8" cy="680.2" r="3.0"/><circle cx="534.8" cy="684.0" r="3.0"/><circle cx="534.8" cy="699.0" r="3.0"/><circle cx="534.8" cy="704.0" r="3.0"/><circle cx="534.8" cy="708.0" r="3.0"/><circle cx="540.7" cy="654.0" r="3.0"/><circle cx="540.7" cy="669.0" r="3.0"/><circle cx="540.7" cy="674.0" r="3.0"/><circle cx="540.7" cy="685.0" r="3.0"/><circle cx="540.7" cy="705.6" r="3.0"/><circle cx="546.6" cy="671.0" r="3.0"/><circle cx="546.6" cy="674.0" r="3.0"/><circle cx="546.6" cy="687.0" r="3.0"/><circle cx="546.6" cy="690.0" r="3.0"/><circle cx="546.6" cy="697.6" r="3.0"/><circle cx="546.6" cy="704.4" r="3.0"/><circle cx="546.6" cy="717.6" r="3.0"/><circle cx="552.5" cy="651.0" r="3.0"/><circle cx="552.5" cy="669.0" r="3.0"/><circle cx="552.5" cy="675.0" r="3.0"/><circle cx="552.5" cy="681.0" r="3.0"/><circle cx="552.5" cy="687.6" r="3.0"/><circle cx="552.5" cy="695.6" r="3.0"/><circle cx="552.5" cy="706.4" r="3.0"/><circle cx="558.4" cy="653.6" r="3.0"/><circle cx="558.4" cy="658.0" r="3.0"/><circle cx="558.4" cy="666.0" r="3.0"/><circle cx="558.4" cy="671.0" r="3.0"/><circle cx="558.4" cy="687.0" r="3.0"/><circle cx="558.4" cy="693.0" r="3.0"/><circle cx="564.3" cy="659.0" r="3.0"/><circle cx="564.3" cy="687.6" r="3.0"/><circle cx="564.3" cy="694.4" r="3.0"/><circle cx="564.3" cy="701.6" r="3.0"/><circle cx="564.3" cy="726.0" r="3.0"/><circle cx="570.2" cy="654.0" r="3.0"/><circle cx="570.2" cy="672.0" r="3.0"/><circle cx="570.2" cy="677.0" r="3.0"/><circle cx="570.2" cy="683.6" r="3.0"/><circle cx="570.2" cy="711.6" r="3.0"/><circle cx="570.2" cy="746.4" r="3.0"/></g>
<g fill="#e00000"><circle cx="92.3" cy="695.8" r="3.0"/><circle cx="80.5" cy="742.1" r="3.0"/><circle cx="80.5" cy="749.0" r="3.0"/><circle cx="74.6" cy="768.6" r="3.0"/><circle cx="92.3" cy="761.8" r="3.0"/><circle cx="92.3" cy="766.4" r="3.0"/><circle cx="92.3" cy="720.1" r="3.0"/><circle cx="98.2" cy="720.1" r="3.0"/><circle cx="104.1" cy="746.6" r="3.0"/><circle cx="110.0" cy="722.3" r="3.0"/><circle cx="115.9" cy="698.0" r="3.0"/><circle cx="115.9" cy="713.4" r="3.0"/><circle cx="115.9" cy="753.4" r="3.0"/><circle cx="121.8" cy="722.3" r="3.0"/><circle cx="121.8" cy="731.1" r="3.0"/><circle cx="127.7" cy="691.4" r="3.0"/><circle cx="133.6" cy="664.9" r="3.0"/><circle cx="133.6" cy="680.3" r="3.0"/><circle cx="139.5" cy="702.4" r="3.0"/><circle cx="145.4" cy="666.9" r="3.0"/><circle cx="145.4" cy="724.5" r="3.0"/><circle cx="145.4" cy="726.9" r="3.0"/><circle cx="151.3" cy="684.8" r="3.0"/><circle cx="151.3" cy="717.9" r="3.0"/><circle cx="163.1" cy="680.3" r="3.0"/><circle cx="169.0" cy="682.3" r="3.0"/><circle cx="169.0" cy="733.3" r="3.0"/><circle cx="169.0" cy="737.7" r="3.0"/><circle cx="198.5" cy="715.4" r="3.0"/><circle cx="192.6" cy="731.0" r="3.0"/><circle cx="233.9" cy="750.8" r="3.0"/><circle cx="239.8" cy="719.9" r="3.0"/><circle cx="251.6" cy="719.9" r="3.0"/><circle cx="257.5" cy="752.3" r="3.0"/><circle cx="263.4" cy="756.1" r="3.0"/><circle cx="263.4" cy="768.1" r="3.0"/><circle cx="269.3" cy="726.5" r="3.0"/><circle cx="275.2" cy="746.5" r="3.0"/><circle cx="281.1" cy="691.4" r="3.0"/><circle cx="287.0" cy="717.7" r="3.0"/><circle cx="292.9" cy="717.7" r="3.0"/><circle cx="298.8" cy="731.0" r="3.0"/><circle cx="310.6" cy="731.0" r="3.0"/><circle cx="328.3" cy="748.5" r="3.0"/><circle cx="375.5" cy="750.5" r="3.0"/><circle cx="393.2" cy="728.7" r="3.0"/><circle cx="393.2" cy="740.0" r="3.0"/><circle cx="399.1" cy="711.2" r="3.0"/><circle cx="410.9" cy="746.5" r="3.0"/><circle cx="422.7" cy="753.1" r="3.0"/><circle cx="422.7" cy="773.1" r="3.0"/><circle cx="428.6" cy="724.5" r="3.0"/><circle cx="434.5" cy="743.0" r="3.0"/><circle cx="434.5" cy="755.3" r="3.0"/><circle cx="452.2" cy="726.5" r="3.0"/><circle cx="452.2" cy="744.3" r="3.0"/><circle cx="464.0" cy="749.9" r="3.0"/><circle cx="464.0" cy="737.6" r="3.0"/><circle cx="469.9" cy="735.6" r="3.0"/><circle cx="475.8" cy="724.0" r="3.0"/><circle cx="481.7" cy="746.6" r="3.0"/><circle cx="487.6" cy="724.3" r="3.0"/><circle cx="493.5" cy="722.8" r="3.0"/><circle cx="493.5" cy="754.6" r="3.0"/><circle cx="523.0" cy="739.8" r="3.0"/></g>
</svg></body></html>
